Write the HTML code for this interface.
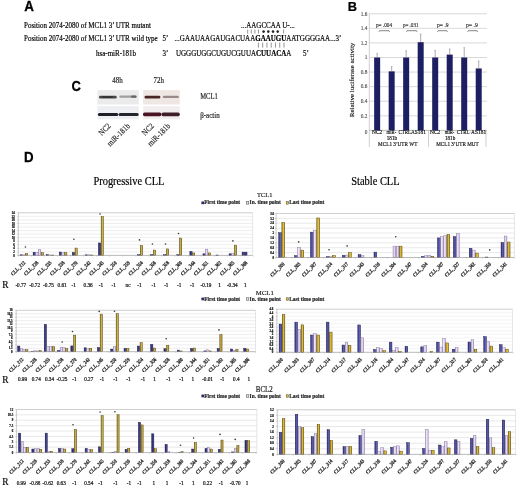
<!DOCTYPE html>
<html><head><meta charset="utf-8"><style>
html,body{margin:0;padding:0;background:#fff;}
body{width:520px;height:490px;overflow:hidden;}
svg{display:block;filter:blur(0.35px);}

</style></head><body>
<svg width="520" height="490" viewBox="0 0 520 490">
<rect width="520" height="490" fill="#fff"/>
<defs>
<linearGradient id="gn" x1="0" x2="1" y1="0" y2="0"><stop offset="0" stop-color="#24245e"/><stop offset="0.25" stop-color="#44449a"/><stop offset="0.7" stop-color="#6666b4"/><stop offset="1" stop-color="#34347a"/></linearGradient>
<linearGradient id="gl" x1="0" x2="1" y1="0" y2="0"><stop offset="0" stop-color="#9888b4"/><stop offset="0.25" stop-color="#eee6f6"/><stop offset="0.75" stop-color="#dccae8"/><stop offset="1" stop-color="#a494bc"/></linearGradient>
<linearGradient id="gg" x1="0" x2="1" y1="0" y2="0"><stop offset="0" stop-color="#6a5810"/><stop offset="0.3" stop-color="#d4b030"/><stop offset="0.7" stop-color="#e4c23a"/><stop offset="1" stop-color="#766010"/></linearGradient>
<linearGradient id="gG" x1="0" x2="1" y1="0" y2="0"><stop offset="0" stop-color="#6a5a18"/><stop offset="0.35" stop-color="#c4aa44"/><stop offset="0.65" stop-color="#d0b448"/><stop offset="1" stop-color="#786418"/></linearGradient>
<linearGradient id="gN" x1="0" x2="1" y1="0" y2="0"><stop offset="0" stop-color="#1c1c50"/><stop offset="0.4" stop-color="#34347e"/><stop offset="0.7" stop-color="#4a4a98"/><stop offset="1" stop-color="#262664"/></linearGradient>
</defs>
<text transform="translate(24.2,11.1) scale(0.9524,1)" x="0" y="0" font-size="14.070" font-family="Liberation Sans" font-weight="bold" text-anchor="start" fill="#000" stroke="#000" stroke-width="0.25" >A</text>
<text transform="translate(347.8,11.1) scale(0.9434,1)" x="0" y="0" font-size="13.568" font-family="Liberation Sans" font-weight="bold" text-anchor="start" fill="#000" stroke="#000" stroke-width="0.25" >B</text>
<text transform="translate(71.4,90.6) scale(0.9091,1)" x="0" y="0" font-size="14.300" font-family="Liberation Sans" font-weight="bold" text-anchor="start" fill="#000" stroke="#000" stroke-width="0.25" >C</text>
<text transform="translate(23.9,162.3) scale(0.9615,1)" x="0" y="0" font-size="13.832" font-family="Liberation Sans" font-weight="bold" text-anchor="start" fill="#000" stroke="#000" stroke-width="0.25" >D</text>
<text transform="translate(24,27.5) scale(0.8929,1)" x="0" y="0" font-size="7.840" font-family="Liberation Serif" font-weight="normal" text-anchor="start" fill="#000" stroke="#000" stroke-width="0.18" >Position 2074-2080 of MCL1 3&#8217; UTR mutant</text>
<text transform="translate(24,41) scale(0.8929,1)" x="0" y="0" font-size="7.840" font-family="Liberation Serif" font-weight="normal" text-anchor="start" fill="#000" stroke="#000" stroke-width="0.18" >Position 2074-2080 of MCL1 3&#8217; UTR wild type</text>
<text transform="translate(96,55.5) scale(0.8929,1)" x="0" y="0" font-size="7.840" font-family="Liberation Serif" font-weight="normal" text-anchor="start" fill="#000" stroke="#000" stroke-width="0.18" >hsa-miR-181b</text>
<text transform="translate(162.5,41) scale(0.8929,1)" x="0" y="0" font-size="7.840" font-family="Liberation Serif" font-weight="normal" text-anchor="start" fill="#000" stroke="#000" stroke-width="0.18" >5&#8217;</text>
<text transform="translate(162.5,55.5) scale(0.8929,1)" x="0" y="0" font-size="7.840" font-family="Liberation Serif" font-weight="normal" text-anchor="start" fill="#000" stroke="#000" stroke-width="0.18" >3&#8217;</text>
<text transform="translate(174.6,41) scale(0.8929,1)" x="0" y="0" font-size="7.840" font-family="Liberation Serif" font-weight="normal" text-anchor="start" fill="#000" stroke="#000" stroke-width="0.18" >...GAAUAAGAUGACUAA<tspan font-weight="bold">GAAUGU</tspan>AATGGGGAA...3&#8217;</text>
<text transform="translate(176,55.5) scale(0.8929,1)" x="0" y="0" font-size="7.840" font-family="Liberation Serif" font-weight="normal" text-anchor="start" fill="#000" stroke="#000" stroke-width="0.18" >UGGGUGGCUGUCGUUA<tspan font-weight="bold">CUUACA</tspan>A</text>
<text transform="translate(303,55.5) scale(0.8929,1)" x="0" y="0" font-size="7.840" font-family="Liberation Serif" font-weight="normal" text-anchor="start" fill="#000" stroke="#000" stroke-width="0.18" >5&#8217;</text>
<text transform="translate(241,28.3) scale(0.8929,1)" x="0" y="0" font-size="7.840" font-family="Liberation Serif" font-weight="normal" text-anchor="start" fill="#000" stroke="#000" stroke-width="0.18" >...AAGCCAA&#8201;U<tspan font-weight="bold">-</tspan>...</text>
<line x1="247.70" y1="29.60" x2="247.70" y2="33.60" stroke="#666" stroke-width="0.7" />
<line x1="251.30" y1="29.60" x2="251.30" y2="33.60" stroke="#666" stroke-width="0.7" />
<line x1="254.90" y1="29.60" x2="254.90" y2="33.60" stroke="#666" stroke-width="0.7" />
<line x1="258.50" y1="29.60" x2="258.50" y2="33.60" stroke="#666" stroke-width="0.7" />
<line x1="283.60" y1="29.60" x2="283.60" y2="33.60" stroke="#666" stroke-width="0.7" />
<circle cx="263.6" cy="31.6" r="1.3" fill="#222"/>
<circle cx="268.3" cy="31.6" r="1.3" fill="#222"/>
<circle cx="273.0" cy="31.6" r="1.3" fill="#222"/>
<circle cx="277.7" cy="31.6" r="1.3" fill="#222"/>
<line x1="258.40" y1="42.60" x2="258.40" y2="47.60" stroke="#666" stroke-width="0.7" />
<line x1="262.67" y1="42.60" x2="262.67" y2="47.60" stroke="#666" stroke-width="0.7" />
<line x1="266.94" y1="42.60" x2="266.94" y2="47.60" stroke="#666" stroke-width="0.7" />
<line x1="271.21" y1="42.60" x2="271.21" y2="47.60" stroke="#666" stroke-width="0.7" />
<line x1="275.48" y1="42.60" x2="275.48" y2="47.60" stroke="#666" stroke-width="0.7" />
<line x1="279.75" y1="42.60" x2="279.75" y2="47.60" stroke="#666" stroke-width="0.7" />
<line x1="284.02" y1="42.60" x2="284.02" y2="47.60" stroke="#666" stroke-width="0.7" />
<line x1="369.30" y1="115.82" x2="487.00" y2="115.82" stroke="#cfcfcf" stroke-width="0.8" />
<line x1="369.30" y1="101.24" x2="487.00" y2="101.24" stroke="#cfcfcf" stroke-width="0.8" />
<line x1="369.30" y1="86.66" x2="487.00" y2="86.66" stroke="#cfcfcf" stroke-width="0.8" />
<line x1="369.30" y1="72.08" x2="487.00" y2="72.08" stroke="#cfcfcf" stroke-width="0.8" />
<line x1="369.30" y1="57.50" x2="487.00" y2="57.50" stroke="#cfcfcf" stroke-width="0.8" />
<line x1="369.30" y1="42.92" x2="487.00" y2="42.92" stroke="#cfcfcf" stroke-width="0.8" />
<line x1="369.30" y1="28.34" x2="487.00" y2="28.34" stroke="#cfcfcf" stroke-width="0.8" />
<line x1="369.30" y1="13.76" x2="487.00" y2="13.76" stroke="#cfcfcf" stroke-width="0.8" />
<line x1="369.30" y1="130.40" x2="487.00" y2="130.40" stroke="#aaa" stroke-width="0.8" />
<line x1="369.30" y1="13.50" x2="369.30" y2="147.00" stroke="#bbb" stroke-width="0.7" />
<line x1="428.50" y1="130.40" x2="428.50" y2="147.00" stroke="#bbb" stroke-width="0.7" />
<line x1="486.00" y1="130.40" x2="486.00" y2="147.00" stroke="#bbb" stroke-width="0.7" />
<text transform="translate(367.3,133.60000000000002) scale(0.8929,1)" x="0" y="0" font-size="5.936" font-family="Liberation Serif" font-weight="normal" text-anchor="end" fill="#444" stroke="#444" stroke-width="0.1" >0</text>
<text transform="translate(367.3,117.62) scale(0.8929,1)" x="0" y="0" font-size="5.936" font-family="Liberation Serif" font-weight="normal" text-anchor="end" fill="#444" stroke="#444" stroke-width="0.1" >0.2</text>
<text transform="translate(367.3,103.04) scale(0.8929,1)" x="0" y="0" font-size="5.936" font-family="Liberation Serif" font-weight="normal" text-anchor="end" fill="#444" stroke="#444" stroke-width="0.1" >0.4</text>
<text transform="translate(367.3,88.46) scale(0.8929,1)" x="0" y="0" font-size="5.936" font-family="Liberation Serif" font-weight="normal" text-anchor="end" fill="#444" stroke="#444" stroke-width="0.1" >0.6</text>
<text transform="translate(367.3,73.88) scale(0.8929,1)" x="0" y="0" font-size="5.936" font-family="Liberation Serif" font-weight="normal" text-anchor="end" fill="#444" stroke="#444" stroke-width="0.1" >0.8</text>
<text transform="translate(367.3,59.3) scale(0.8929,1)" x="0" y="0" font-size="5.936" font-family="Liberation Serif" font-weight="normal" text-anchor="end" fill="#444" stroke="#444" stroke-width="0.1" >1</text>
<text transform="translate(367.3,44.719999999999985) scale(0.8929,1)" x="0" y="0" font-size="5.936" font-family="Liberation Serif" font-weight="normal" text-anchor="end" fill="#444" stroke="#444" stroke-width="0.1" >1.2</text>
<text transform="translate(367.3,30.13999999999999) scale(0.8929,1)" x="0" y="0" font-size="5.936" font-family="Liberation Serif" font-weight="normal" text-anchor="end" fill="#444" stroke="#444" stroke-width="0.1" >1.4</text>
<text transform="translate(367.3,15.559999999999992) scale(0.8929,1)" x="0" y="0" font-size="5.936" font-family="Liberation Serif" font-weight="normal" text-anchor="end" fill="#444" stroke="#444" stroke-width="0.1" >1.6</text>
<rect x="374.15" y="57.50" width="6.00" height="72.90" fill="#1e1e62" />
<line x1="377.15" y1="53.64" x2="377.15" y2="57.50" stroke="#888" stroke-width="0.7" />
<line x1="376.35" y1="53.64" x2="377.95" y2="53.64" stroke="#888" stroke-width="0.6" />
<rect x="388.66" y="71.35" width="6.00" height="59.05" fill="#1e1e62" />
<line x1="391.66" y1="66.61" x2="391.66" y2="71.35" stroke="#888" stroke-width="0.7" />
<line x1="390.86" y1="66.61" x2="392.46" y2="66.61" stroke="#888" stroke-width="0.6" />
<rect x="403.17" y="57.50" width="6.00" height="72.90" fill="#1e1e62" />
<line x1="406.17" y1="50.79" x2="406.17" y2="57.50" stroke="#888" stroke-width="0.7" />
<line x1="405.37" y1="50.79" x2="406.97" y2="50.79" stroke="#888" stroke-width="0.6" />
<rect x="417.68" y="42.19" width="6.00" height="88.21" fill="#1e1e62" />
<line x1="420.68" y1="34.17" x2="420.68" y2="42.19" stroke="#888" stroke-width="0.7" />
<line x1="419.88" y1="34.17" x2="421.48" y2="34.17" stroke="#888" stroke-width="0.6" />
<rect x="432.19" y="57.50" width="6.00" height="72.90" fill="#1e1e62" />
<line x1="435.19" y1="50.43" x2="435.19" y2="57.50" stroke="#888" stroke-width="0.7" />
<line x1="434.39" y1="50.43" x2="435.99" y2="50.43" stroke="#888" stroke-width="0.6" />
<rect x="446.70" y="54.58" width="6.00" height="75.82" fill="#1e1e62" />
<line x1="449.70" y1="48.97" x2="449.70" y2="54.58" stroke="#888" stroke-width="0.7" />
<line x1="448.90" y1="48.97" x2="450.50" y2="48.97" stroke="#888" stroke-width="0.6" />
<rect x="461.21" y="57.50" width="6.00" height="72.90" fill="#1e1e62" />
<line x1="464.21" y1="47.73" x2="464.21" y2="57.50" stroke="#888" stroke-width="0.7" />
<line x1="463.41" y1="47.73" x2="465.01" y2="47.73" stroke="#888" stroke-width="0.6" />
<rect x="475.72" y="68.44" width="6.00" height="61.97" fill="#1e1e62" />
<line x1="478.72" y1="61.15" x2="478.72" y2="68.44" stroke="#888" stroke-width="0.7" />
<line x1="477.92" y1="61.15" x2="479.52" y2="61.15" stroke="#888" stroke-width="0.6" />
<text font-family="Liberation Serif" font-size="7" fill="#222" stroke="#222" stroke-width="0.15" textLength="74.5" lengthAdjust="spacingAndGlyphs" transform="translate(353.6,79.9) rotate(-90)" text-anchor="middle">Relative luciferase activity</text>
<text transform="translate(375.9,27) scale(0.8929,1)" x="0" y="0" font-size="6.496" font-family="Liberation Serif" font-weight="normal" text-anchor="start" fill="#333" stroke="#333" stroke-width="0.18" textLength="18.14" lengthAdjust="spacingAndGlyphs">p= .004</text>
<path d="M379,31.8 L379.6,30.7 L389.0,30.7 L389.6,31.8" fill="none" stroke="#333" stroke-width="0.6"/>
<text transform="translate(402.9,27) scale(0.8929,1)" x="0" y="0" font-size="6.496" font-family="Liberation Serif" font-weight="normal" text-anchor="start" fill="#333" stroke="#333" stroke-width="0.18" textLength="17.47" lengthAdjust="spacingAndGlyphs">p= .031</text>
<path d="M406.5,31.8 L407.1,30.7 L416.5,30.7 L417.1,31.8" fill="none" stroke="#333" stroke-width="0.6"/>
<text transform="translate(437,27) scale(0.8929,1)" x="0" y="0" font-size="6.496" font-family="Liberation Serif" font-weight="normal" text-anchor="start" fill="#333" stroke="#333" stroke-width="0.18" textLength="12.99" lengthAdjust="spacingAndGlyphs">p= .9</text>
<path d="M437.5,31.8 L438.1,30.7 L446.9,30.7 L447.5,31.8" fill="none" stroke="#333" stroke-width="0.6"/>
<text transform="translate(466,27) scale(0.8929,1)" x="0" y="0" font-size="6.496" font-family="Liberation Serif" font-weight="normal" text-anchor="start" fill="#333" stroke="#333" stroke-width="0.18" textLength="13.22" lengthAdjust="spacingAndGlyphs">p= .9</text>
<path d="M467.7,31.8 L468.3,30.7 L477.09999999999997,30.7 L477.7,31.8" fill="none" stroke="#333" stroke-width="0.6"/>
<text transform="translate(377.2,134.4) scale(0.8929,1)" x="0" y="0" font-size="6.272" font-family="Liberation Serif" font-weight="normal" text-anchor="middle" fill="#1a1a1a" stroke="#1a1a1a" stroke-width="0.22" textLength="11.42" lengthAdjust="spacingAndGlyphs">NC2</text>
<text transform="translate(391.4,134.4) scale(0.8929,1)" x="0" y="0" font-size="6.272" font-family="Liberation Serif" font-weight="normal" text-anchor="middle" fill="#1a1a1a" stroke="#1a1a1a" stroke-width="0.22" textLength="10.75" lengthAdjust="spacingAndGlyphs">miR-</text>
<text transform="translate(404.7,134.4) scale(0.8929,1)" x="0" y="0" font-size="6.272" font-family="Liberation Serif" font-weight="normal" text-anchor="middle" fill="#1a1a1a" stroke="#1a1a1a" stroke-width="0.22" textLength="14.11" lengthAdjust="spacingAndGlyphs">CTRL</text>
<text transform="translate(418.4,134.4) scale(0.8929,1)" x="0" y="0" font-size="6.272" font-family="Liberation Serif" font-weight="normal" text-anchor="middle" fill="#1a1a1a" stroke="#1a1a1a" stroke-width="0.22" textLength="16.58" lengthAdjust="spacingAndGlyphs">AS181</text>
<text transform="translate(435.2,134.4) scale(0.8929,1)" x="0" y="0" font-size="6.272" font-family="Liberation Serif" font-weight="normal" text-anchor="middle" fill="#1a1a1a" stroke="#1a1a1a" stroke-width="0.22" textLength="11.42" lengthAdjust="spacingAndGlyphs">NC2</text>
<text transform="translate(449.6,134.4) scale(0.8929,1)" x="0" y="0" font-size="6.272" font-family="Liberation Serif" font-weight="normal" text-anchor="middle" fill="#1a1a1a" stroke="#1a1a1a" stroke-width="0.22" textLength="10.75" lengthAdjust="spacingAndGlyphs">miR-</text>
<text transform="translate(463.2,134.4) scale(0.8929,1)" x="0" y="0" font-size="6.272" font-family="Liberation Serif" font-weight="normal" text-anchor="middle" fill="#1a1a1a" stroke="#1a1a1a" stroke-width="0.22" textLength="14.11" lengthAdjust="spacingAndGlyphs">CTRL</text>
<text transform="translate(478.6,134.4) scale(0.8929,1)" x="0" y="0" font-size="6.272" font-family="Liberation Serif" font-weight="normal" text-anchor="middle" fill="#1a1a1a" stroke="#1a1a1a" stroke-width="0.22" textLength="16.80" lengthAdjust="spacingAndGlyphs">AS181</text>
<text transform="translate(391.9,139.9) scale(0.8929,1)" x="0" y="0" font-size="6.272" font-family="Liberation Serif" font-weight="normal" text-anchor="middle" fill="#1a1a1a" stroke="#1a1a1a" stroke-width="0.22" textLength="11.4" lengthAdjust="spacingAndGlyphs">181b</text>
<text transform="translate(450.1,139.9) scale(0.8929,1)" x="0" y="0" font-size="6.272" font-family="Liberation Serif" font-weight="normal" text-anchor="middle" fill="#1a1a1a" stroke="#1a1a1a" stroke-width="0.22" textLength="11.4" lengthAdjust="spacingAndGlyphs">181b</text>
<text transform="translate(397.7,146.0) scale(0.8929,1)" x="0" y="0" font-size="6.608" font-family="Liberation Serif" font-weight="normal" text-anchor="middle" fill="#1a1a1a" stroke="#1a1a1a" stroke-width="0.22" textLength="43.9" lengthAdjust="spacingAndGlyphs">MCL1 3&#8217;UTR WT</text>
<text transform="translate(457.4,146.0) scale(0.8929,1)" x="0" y="0" font-size="6.608" font-family="Liberation Serif" font-weight="normal" text-anchor="middle" fill="#1a1a1a" stroke="#1a1a1a" stroke-width="0.22" textLength="47.5" lengthAdjust="spacingAndGlyphs">MCL1 3&#8217;UTR MUT</text>
<line x1="383.80" y1="130.40" x2="383.80" y2="134.00" stroke="#d8d8d8" stroke-width="0.5" />
<line x1="398.30" y1="130.40" x2="398.30" y2="134.00" stroke="#d8d8d8" stroke-width="0.5" />
<line x1="412.80" y1="130.40" x2="412.80" y2="134.00" stroke="#d8d8d8" stroke-width="0.5" />
<line x1="441.80" y1="130.40" x2="441.80" y2="134.00" stroke="#d8d8d8" stroke-width="0.5" />
<line x1="456.30" y1="130.40" x2="456.30" y2="134.00" stroke="#d8d8d8" stroke-width="0.5" />
<line x1="470.80" y1="130.40" x2="470.80" y2="134.00" stroke="#d8d8d8" stroke-width="0.5" />
<text transform="translate(117.4,82.6) scale(0.8197,1)" x="0" y="0" font-size="8.540" font-family="Liberation Serif" font-weight="normal" text-anchor="middle" fill="#222" stroke="#222" stroke-width="0.18" >48h</text>
<text transform="translate(158.7,82.6) scale(0.8197,1)" x="0" y="0" font-size="8.540" font-family="Liberation Serif" font-weight="normal" text-anchor="middle" fill="#222" stroke="#222" stroke-width="0.18" >72h</text>
<rect x="97.40" y="90.10" width="41.40" height="14.40" fill="#ebebeb" />
<rect x="143.20" y="90.10" width="36.60" height="14.40" fill="#efe7e3" />
<rect x="99" y="95.8" width="17.7" height="2.6" rx="1.2" fill="#4a4848"/>
<rect x="102" y="96.1" width="11" height="2.0" rx="1" fill="#363434"/>
<rect x="119.3" y="95.6" width="17.3" height="2.1" rx="1" fill="#a09e9e"/>
<rect x="131" y="95.6" width="5.5" height="2.1" rx="1" fill="#666"/>
<rect x="144.6" y="95.8" width="15.7" height="2.6" rx="1.2" fill="#4a2626"/>
<rect x="162.8" y="95.7" width="16.1" height="2.3" rx="1.1" fill="#9c8a8a"/>
<rect x="97.40" y="106.20" width="41.40" height="13.10" fill="#edeef2" />
<rect x="143.20" y="106.20" width="36.60" height="13.10" fill="#f2eef0" />
<rect x="97.9" y="112.9" width="20.4" height="3.1" rx="1.5" fill="#1e1e26"/>
<rect x="118.6" y="112.9" width="20.1" height="3.1" rx="1.5" fill="#24242c"/>
<rect x="143" y="112.6" width="18.4" height="3.6" rx="1.6" fill="#4a1222"/>
<rect x="161.5" y="112.6" width="18.3" height="3.6" rx="1.6" fill="#3e1e28"/>
<text transform="translate(200.2,98.6) scale(0.8333,1)" x="0" y="0" font-size="7.920" font-family="Liberation Serif" font-weight="normal" text-anchor="start" fill="#222" stroke="#222" stroke-width="0.18" >MCL1</text>
<text transform="translate(200.2,117.5) scale(0.8929,1)" x="0" y="0" font-size="7.840" font-family="Liberation Serif" font-weight="normal" text-anchor="start" fill="#222" stroke="#222" stroke-width="0.18" >&#946;-actin</text>
<text x="0" y="0" font-size="8.26" font-family="Liberation Serif" text-anchor="end" fill="#222" stroke="#222" stroke-width="0.15" transform="translate(111.2,126.6) rotate(-45) scale(0.8475,1)">NC2</text>
<text x="0" y="0" font-size="8.26" font-family="Liberation Serif" text-anchor="end" fill="#222" stroke="#222" stroke-width="0.15" transform="translate(130.4,126.6) rotate(-45) scale(0.8475,1)">miR-181b</text>
<text x="0" y="0" font-size="8.26" font-family="Liberation Serif" text-anchor="end" fill="#222" stroke="#222" stroke-width="0.15" transform="translate(154.4,126.6) rotate(-45) scale(0.8475,1)">NC2</text>
<text x="0" y="0" font-size="8.26" font-family="Liberation Serif" text-anchor="end" fill="#222" stroke="#222" stroke-width="0.15" transform="translate(170.8,126.6) rotate(-45) scale(0.8475,1)">miR-181b</text>
<text transform="translate(93.4,184.8) scale(0.8929,1)" x="0" y="0" font-size="11.704" font-family="Liberation Serif" font-weight="normal" text-anchor="start" fill="#000" stroke="#000" stroke-width="0.18" >Progressive CLL</text>
<text transform="translate(351.2,184.8) scale(0.8929,1)" x="0" y="0" font-size="11.704" font-family="Liberation Serif" font-weight="normal" text-anchor="start" fill="#000" stroke="#000" stroke-width="0.18" >Stable CLL</text>
<text transform="translate(256.9,197.3) scale(0.9524,1)" x="0" y="0" font-size="6.825" font-family="Liberation Serif" font-weight="normal" text-anchor="start" fill="#222" stroke="#222" stroke-width="0.18" >TCL1</text>
<rect x="201.40" y="201.50" width="2.70" height="2.70" fill="#2a2a6a" />
<text transform="translate(204.3,204.4) scale(0.9091,1)" x="0" y="0" font-size="5.940" font-family="Liberation Serif" font-weight="bold" text-anchor="start" fill="#222" stroke="#222" stroke-width="0.18" >First time point</text>
<rect x="246.4" y="201.70000000000002" width="2.4" height="2.4" fill="#ece4f4" stroke="#444" stroke-width="0.5"/>
<text transform="translate(249.6,204.4) scale(0.9091,1)" x="0" y="0" font-size="5.940" font-family="Liberation Serif" font-weight="bold" text-anchor="start" fill="#222" stroke="#222" stroke-width="0.18" >In. time point</text>
<rect x="286.2" y="201.70000000000002" width="2.4" height="2.4" fill="#e8c030" stroke="#444" stroke-width="0.5"/>
<text transform="translate(289.2,204.4) scale(0.9091,1)" x="0" y="0" font-size="5.940" font-family="Liberation Serif" font-weight="bold" text-anchor="start" fill="#222" stroke="#222" stroke-width="0.18" >Last time point</text>
<text transform="translate(255.8,294.9) scale(0.9524,1)" x="0" y="0" font-size="7.088" font-family="Liberation Serif" font-weight="normal" text-anchor="start" fill="#222" stroke="#222" stroke-width="0.18" >MCL1</text>
<rect x="201.40" y="297.60" width="2.70" height="2.70" fill="#2a2a6a" />
<text transform="translate(204.3,300.5) scale(0.9091,1)" x="0" y="0" font-size="5.940" font-family="Liberation Serif" font-weight="bold" text-anchor="start" fill="#222" stroke="#222" stroke-width="0.18" >First time point</text>
<rect x="246.4" y="297.8" width="2.4" height="2.4" fill="#ece4f4" stroke="#444" stroke-width="0.5"/>
<text transform="translate(249.6,300.5) scale(0.9091,1)" x="0" y="0" font-size="5.940" font-family="Liberation Serif" font-weight="bold" text-anchor="start" fill="#222" stroke="#222" stroke-width="0.18" >In. time point</text>
<rect x="286.2" y="297.8" width="2.4" height="2.4" fill="#e8c030" stroke="#444" stroke-width="0.5"/>
<text transform="translate(289.2,300.5) scale(0.9091,1)" x="0" y="0" font-size="5.940" font-family="Liberation Serif" font-weight="bold" text-anchor="start" fill="#222" stroke="#222" stroke-width="0.18" >Last time point</text>
<text transform="translate(255.8,392.1) scale(0.9524,1)" x="0" y="0" font-size="7.245" font-family="Liberation Serif" font-weight="normal" text-anchor="start" fill="#222" stroke="#222" stroke-width="0.18" >BCL2</text>
<rect x="201.40" y="394.60" width="2.70" height="2.70" fill="#2a2a6a" />
<text transform="translate(204.3,397.5) scale(0.9091,1)" x="0" y="0" font-size="5.940" font-family="Liberation Serif" font-weight="bold" text-anchor="start" fill="#222" stroke="#222" stroke-width="0.18" >First time point</text>
<rect x="246.4" y="394.8" width="2.4" height="2.4" fill="#ece4f4" stroke="#444" stroke-width="0.5"/>
<text transform="translate(249.6,397.5) scale(0.9091,1)" x="0" y="0" font-size="5.940" font-family="Liberation Serif" font-weight="bold" text-anchor="start" fill="#222" stroke="#222" stroke-width="0.18" >In. time point</text>
<rect x="286.2" y="394.8" width="2.4" height="2.4" fill="#e8c030" stroke="#444" stroke-width="0.5"/>
<text transform="translate(289.2,397.5) scale(0.9091,1)" x="0" y="0" font-size="5.940" font-family="Liberation Serif" font-weight="bold" text-anchor="start" fill="#222" stroke="#222" stroke-width="0.18" >Last time point</text>
<line x1="18.30" y1="212.80" x2="252.60" y2="212.80" stroke="#e2e2e2" stroke-width="0.6" />
<line x1="17.10" y1="212.80" x2="18.30" y2="212.80" stroke="#999" stroke-width="0.4" />
<text transform="translate(14.9,213.95000000000002) scale(0.9091,1)" x="0" y="0" font-size="3.410" font-family="Liberation Serif" font-weight="bold" text-anchor="end" fill="#111" stroke="#111" stroke-width="0.2" >24</text>
<line x1="18.30" y1="216.35" x2="252.60" y2="216.35" stroke="#e2e2e2" stroke-width="0.6" />
<line x1="17.10" y1="216.35" x2="18.30" y2="216.35" stroke="#999" stroke-width="0.4" />
<text transform="translate(14.9,217.50000000000003) scale(0.9091,1)" x="0" y="0" font-size="3.410" font-family="Liberation Serif" font-weight="bold" text-anchor="end" fill="#111" stroke="#111" stroke-width="0.2" >22</text>
<line x1="18.30" y1="219.90" x2="252.60" y2="219.90" stroke="#e2e2e2" stroke-width="0.6" />
<line x1="17.10" y1="219.90" x2="18.30" y2="219.90" stroke="#999" stroke-width="0.4" />
<text transform="translate(14.9,221.05) scale(0.9091,1)" x="0" y="0" font-size="3.410" font-family="Liberation Serif" font-weight="bold" text-anchor="end" fill="#111" stroke="#111" stroke-width="0.2" >20</text>
<line x1="18.30" y1="223.45" x2="252.60" y2="223.45" stroke="#e2e2e2" stroke-width="0.6" />
<line x1="17.10" y1="223.45" x2="18.30" y2="223.45" stroke="#999" stroke-width="0.4" />
<text transform="translate(14.9,224.60000000000002) scale(0.9091,1)" x="0" y="0" font-size="3.410" font-family="Liberation Serif" font-weight="bold" text-anchor="end" fill="#111" stroke="#111" stroke-width="0.2" >18</text>
<line x1="18.30" y1="227.00" x2="252.60" y2="227.00" stroke="#e2e2e2" stroke-width="0.6" />
<line x1="17.10" y1="227.00" x2="18.30" y2="227.00" stroke="#999" stroke-width="0.4" />
<text transform="translate(14.9,228.15) scale(0.9091,1)" x="0" y="0" font-size="3.410" font-family="Liberation Serif" font-weight="bold" text-anchor="end" fill="#111" stroke="#111" stroke-width="0.2" >16</text>
<line x1="18.30" y1="230.55" x2="252.60" y2="230.55" stroke="#e2e2e2" stroke-width="0.6" />
<line x1="17.10" y1="230.55" x2="18.30" y2="230.55" stroke="#999" stroke-width="0.4" />
<text transform="translate(14.9,231.70000000000002) scale(0.9091,1)" x="0" y="0" font-size="3.410" font-family="Liberation Serif" font-weight="bold" text-anchor="end" fill="#111" stroke="#111" stroke-width="0.2" >14</text>
<line x1="18.30" y1="234.10" x2="252.60" y2="234.10" stroke="#e2e2e2" stroke-width="0.6" />
<line x1="17.10" y1="234.10" x2="18.30" y2="234.10" stroke="#999" stroke-width="0.4" />
<text transform="translate(14.9,235.25000000000003) scale(0.9091,1)" x="0" y="0" font-size="3.410" font-family="Liberation Serif" font-weight="bold" text-anchor="end" fill="#111" stroke="#111" stroke-width="0.2" >12</text>
<line x1="18.30" y1="237.65" x2="252.60" y2="237.65" stroke="#e2e2e2" stroke-width="0.6" />
<line x1="17.10" y1="237.65" x2="18.30" y2="237.65" stroke="#999" stroke-width="0.4" />
<text transform="translate(14.9,238.8) scale(0.9091,1)" x="0" y="0" font-size="3.410" font-family="Liberation Serif" font-weight="bold" text-anchor="end" fill="#111" stroke="#111" stroke-width="0.2" >10</text>
<line x1="18.30" y1="241.20" x2="252.60" y2="241.20" stroke="#e2e2e2" stroke-width="0.6" />
<line x1="17.10" y1="241.20" x2="18.30" y2="241.20" stroke="#999" stroke-width="0.4" />
<text transform="translate(14.9,242.35000000000002) scale(0.9091,1)" x="0" y="0" font-size="3.410" font-family="Liberation Serif" font-weight="bold" text-anchor="end" fill="#111" stroke="#111" stroke-width="0.2" >8</text>
<line x1="18.30" y1="244.75" x2="252.60" y2="244.75" stroke="#e2e2e2" stroke-width="0.6" />
<line x1="17.10" y1="244.75" x2="18.30" y2="244.75" stroke="#999" stroke-width="0.4" />
<text transform="translate(14.9,245.9) scale(0.9091,1)" x="0" y="0" font-size="3.410" font-family="Liberation Serif" font-weight="bold" text-anchor="end" fill="#111" stroke="#111" stroke-width="0.2" >6</text>
<line x1="18.30" y1="248.30" x2="252.60" y2="248.30" stroke="#e2e2e2" stroke-width="0.6" />
<line x1="17.10" y1="248.30" x2="18.30" y2="248.30" stroke="#999" stroke-width="0.4" />
<text transform="translate(14.9,249.45000000000002) scale(0.9091,1)" x="0" y="0" font-size="3.410" font-family="Liberation Serif" font-weight="bold" text-anchor="end" fill="#111" stroke="#111" stroke-width="0.2" >4</text>
<line x1="18.30" y1="251.85" x2="252.60" y2="251.85" stroke="#e2e2e2" stroke-width="0.6" />
<line x1="17.10" y1="251.85" x2="18.30" y2="251.85" stroke="#999" stroke-width="0.4" />
<text transform="translate(14.9,253.0) scale(0.9091,1)" x="0" y="0" font-size="3.410" font-family="Liberation Serif" font-weight="bold" text-anchor="end" fill="#111" stroke="#111" stroke-width="0.2" >2</text>
<line x1="17.10" y1="255.40" x2="18.30" y2="255.40" stroke="#999" stroke-width="0.4" />
<text transform="translate(14.9,256.55) scale(0.9091,1)" x="0" y="0" font-size="3.410" font-family="Liberation Serif" font-weight="bold" text-anchor="end" fill="#111" stroke="#111" stroke-width="0.2" >0</text>
<line x1="18.30" y1="212.80" x2="252.60" y2="212.80" stroke="#c6c6c6" stroke-width="0.7" />
<line x1="18.30" y1="212.80" x2="18.30" y2="255.40" stroke="#999" stroke-width="0.5" />
<line x1="252.60" y1="212.80" x2="252.60" y2="255.40" stroke="#cfcfcf" stroke-width="0.5" />
<rect x="20.07" y="254.82" width="2.25" height="0.58" fill="url(#gN)" stroke="#20204e" stroke-width="0.45"/>
<rect x="22.77" y="254.82" width="2.25" height="0.58" fill="url(#gl)" stroke="#8c7ca8" stroke-width="0.45"/>
<rect x="25.47" y="253.32" width="2.25" height="2.08" fill="url(#gG)" stroke="#5e4c0e" stroke-width="0.45"/>
<rect x="33.12" y="252.22" width="2.25" height="3.18" fill="url(#gN)" stroke="#20204e" stroke-width="0.45"/>
<rect x="35.83" y="252.22" width="2.25" height="3.18" fill="url(#gl)" stroke="#8c7ca8" stroke-width="0.45"/>
<rect x="38.52" y="249.42" width="2.25" height="5.98" fill="url(#gl)" stroke="#8c7ca8" stroke-width="0.45"/>
<rect x="41.23" y="252.53" width="2.25" height="2.87" fill="url(#gG)" stroke="#5e4c0e" stroke-width="0.45"/>
<rect x="46.19" y="254.62" width="2.25" height="0.78" fill="url(#gN)" stroke="#20204e" stroke-width="0.45"/>
<rect x="48.89" y="255.03" width="2.25" height="0.37" fill="url(#gl)" stroke="#8c7ca8" stroke-width="0.45"/>
<rect x="51.59" y="255.03" width="2.25" height="0.37" fill="url(#gG)" stroke="#5e4c0e" stroke-width="0.45"/>
<rect x="59.25" y="252.03" width="2.25" height="3.37" fill="url(#gN)" stroke="#20204e" stroke-width="0.45"/>
<rect x="61.95" y="252.53" width="2.25" height="2.87" fill="url(#gl)" stroke="#8c7ca8" stroke-width="0.45"/>
<rect x="64.64" y="252.72" width="2.25" height="2.68" fill="url(#gG)" stroke="#5e4c0e" stroke-width="0.45"/>
<rect x="72.31" y="252.42" width="2.25" height="2.98" fill="url(#gN)" stroke="#20204e" stroke-width="0.45"/>
<rect x="75.01" y="248.03" width="2.25" height="7.37" fill="url(#gG)" stroke="#5e4c0e" stroke-width="0.45"/>
<rect x="85.36" y="254.82" width="2.25" height="0.58" fill="url(#gN)" stroke="#20204e" stroke-width="0.45"/>
<rect x="88.06" y="254.82" width="2.25" height="0.58" fill="url(#gl)" stroke="#8c7ca8" stroke-width="0.45"/>
<rect x="90.77" y="255.03" width="2.25" height="0.37" fill="url(#gG)" stroke="#5e4c0e" stroke-width="0.45"/>
<rect x="98.42" y="242.92" width="2.25" height="12.48" fill="url(#gN)" stroke="#20204e" stroke-width="0.45"/>
<rect x="101.12" y="216.42" width="2.25" height="38.98" fill="url(#gG)" stroke="#5e4c0e" stroke-width="0.45"/>
<rect x="137.60" y="254.72" width="2.25" height="0.68" fill="url(#gN)" stroke="#20204e" stroke-width="0.45"/>
<rect x="140.30" y="245.42" width="2.25" height="9.98" fill="url(#gG)" stroke="#5e4c0e" stroke-width="0.45"/>
<rect x="150.66" y="254.72" width="2.25" height="0.68" fill="url(#gN)" stroke="#20204e" stroke-width="0.45"/>
<rect x="153.36" y="250.03" width="2.25" height="5.37" fill="url(#gG)" stroke="#5e4c0e" stroke-width="0.45"/>
<rect x="163.72" y="254.72" width="2.25" height="0.68" fill="url(#gN)" stroke="#20204e" stroke-width="0.45"/>
<rect x="166.42" y="248.92" width="2.25" height="6.48" fill="url(#gG)" stroke="#5e4c0e" stroke-width="0.45"/>
<rect x="176.78" y="254.72" width="2.25" height="0.68" fill="url(#gN)" stroke="#20204e" stroke-width="0.45"/>
<rect x="179.48" y="238.03" width="2.25" height="17.37" fill="url(#gG)" stroke="#5e4c0e" stroke-width="0.45"/>
<rect x="189.84" y="251.42" width="2.25" height="3.98" fill="url(#gN)" stroke="#20204e" stroke-width="0.45"/>
<rect x="192.54" y="252.92" width="2.25" height="2.48" fill="url(#gG)" stroke="#5e4c0e" stroke-width="0.45"/>
<rect x="202.91" y="253.82" width="2.25" height="1.58" fill="url(#gN)" stroke="#20204e" stroke-width="0.45"/>
<rect x="205.60" y="249.12" width="2.25" height="6.28" fill="url(#gl)" stroke="#8c7ca8" stroke-width="0.45"/>
<rect x="208.31" y="252.92" width="2.25" height="2.48" fill="url(#gG)" stroke="#5e4c0e" stroke-width="0.45"/>
<rect x="215.97" y="255.03" width="2.25" height="0.37" fill="url(#gN)" stroke="#20204e" stroke-width="0.45"/>
<rect x="229.03" y="253.82" width="2.25" height="1.58" fill="url(#gN)" stroke="#20204e" stroke-width="0.45"/>
<rect x="231.72" y="253.53" width="2.25" height="1.87" fill="url(#gl)" stroke="#8c7ca8" stroke-width="0.45"/>
<rect x="234.43" y="245.12" width="2.25" height="10.28" fill="url(#gG)" stroke="#5e4c0e" stroke-width="0.45"/>
<rect x="242.09" y="252.12" width="2.25" height="3.27" fill="url(#gN)" stroke="#20204e" stroke-width="0.45"/>
<rect x="244.78" y="252.12" width="2.25" height="3.27" fill="url(#gN)" stroke="#20204e" stroke-width="0.45"/>
<line x1="18.30" y1="255.40" x2="252.60" y2="255.40" stroke="#8a8a8a" stroke-width="0.6" />
<line x1="18.30" y1="255.40" x2="18.30" y2="256.60" stroke="#999" stroke-width="0.4" />
<line x1="31.36" y1="255.40" x2="31.36" y2="256.60" stroke="#999" stroke-width="0.4" />
<line x1="44.42" y1="255.40" x2="44.42" y2="256.60" stroke="#999" stroke-width="0.4" />
<line x1="57.48" y1="255.40" x2="57.48" y2="256.60" stroke="#999" stroke-width="0.4" />
<line x1="70.54" y1="255.40" x2="70.54" y2="256.60" stroke="#999" stroke-width="0.4" />
<line x1="83.60" y1="255.40" x2="83.60" y2="256.60" stroke="#999" stroke-width="0.4" />
<line x1="96.66" y1="255.40" x2="96.66" y2="256.60" stroke="#999" stroke-width="0.4" />
<line x1="109.72" y1="255.40" x2="109.72" y2="256.60" stroke="#999" stroke-width="0.4" />
<line x1="122.78" y1="255.40" x2="122.78" y2="256.60" stroke="#999" stroke-width="0.4" />
<line x1="135.84" y1="255.40" x2="135.84" y2="256.60" stroke="#999" stroke-width="0.4" />
<line x1="148.90" y1="255.40" x2="148.90" y2="256.60" stroke="#999" stroke-width="0.4" />
<line x1="161.96" y1="255.40" x2="161.96" y2="256.60" stroke="#999" stroke-width="0.4" />
<line x1="175.02" y1="255.40" x2="175.02" y2="256.60" stroke="#999" stroke-width="0.4" />
<line x1="188.08" y1="255.40" x2="188.08" y2="256.60" stroke="#999" stroke-width="0.4" />
<line x1="201.14" y1="255.40" x2="201.14" y2="256.60" stroke="#999" stroke-width="0.4" />
<line x1="214.20" y1="255.40" x2="214.20" y2="256.60" stroke="#999" stroke-width="0.4" />
<line x1="227.26" y1="255.40" x2="227.26" y2="256.60" stroke="#999" stroke-width="0.4" />
<line x1="240.32" y1="255.40" x2="240.32" y2="256.60" stroke="#999" stroke-width="0.4" />
<line x1="253.38" y1="255.40" x2="253.38" y2="256.60" stroke="#999" stroke-width="0.4" />
<circle cx="25.4" cy="247" r="0.8" fill="#333"/>
<circle cx="73.9" cy="239.3" r="0.8" fill="#333"/>
<circle cx="100.1" cy="214" r="0.8" fill="#333"/>
<circle cx="139.5" cy="239.9" r="0.8" fill="#333"/>
<circle cx="152.4" cy="244" r="0.8" fill="#333"/>
<circle cx="165.5" cy="244" r="0.8" fill="#333"/>
<circle cx="178.5" cy="233.5" r="0.8" fill="#333"/>
<circle cx="232.9" cy="240.9" r="0.8" fill="#333"/>
<text x="0" y="0" font-size="5.40" font-family="Liberation Serif" font-weight="bold" text-anchor="end" fill="#1a1a1a" stroke="#1a1a1a" stroke-width="0.2" transform="translate(25.83,263.10) rotate(-45) scale(0.8333,1)">CLL_212</text>
<text x="0" y="0" font-size="5.40" font-family="Liberation Serif" font-weight="bold" text-anchor="end" fill="#1a1a1a" stroke="#1a1a1a" stroke-width="0.2" transform="translate(38.89,263.10) rotate(-45) scale(0.8333,1)">CLL_228</text>
<text x="0" y="0" font-size="5.40" font-family="Liberation Serif" font-weight="bold" text-anchor="end" fill="#1a1a1a" stroke="#1a1a1a" stroke-width="0.2" transform="translate(51.95,263.10) rotate(-45) scale(0.8333,1)">CLL_233</text>
<text x="0" y="0" font-size="5.40" font-family="Liberation Serif" font-weight="bold" text-anchor="end" fill="#1a1a1a" stroke="#1a1a1a" stroke-width="0.2" transform="translate(65.01,263.10) rotate(-45) scale(0.8333,1)">CLL_238</text>
<text x="0" y="0" font-size="5.40" font-family="Liberation Serif" font-weight="bold" text-anchor="end" fill="#1a1a1a" stroke="#1a1a1a" stroke-width="0.2" transform="translate(78.07,263.10) rotate(-45) scale(0.8333,1)">CLL_270</text>
<text x="0" y="0" font-size="5.40" font-family="Liberation Serif" font-weight="bold" text-anchor="end" fill="#1a1a1a" stroke="#1a1a1a" stroke-width="0.2" transform="translate(91.13,263.10) rotate(-45) scale(0.8333,1)">CLL_242</text>
<text x="0" y="0" font-size="5.40" font-family="Liberation Serif" font-weight="bold" text-anchor="end" fill="#1a1a1a" stroke="#1a1a1a" stroke-width="0.2" transform="translate(104.19,263.10) rotate(-45) scale(0.8333,1)">CLL_245</text>
<text x="0" y="0" font-size="5.40" font-family="Liberation Serif" font-weight="bold" text-anchor="end" fill="#1a1a1a" stroke="#1a1a1a" stroke-width="0.2" transform="translate(117.25,263.10) rotate(-45) scale(0.8333,1)">CLL_250</text>
<text x="0" y="0" font-size="5.40" font-family="Liberation Serif" font-weight="bold" text-anchor="end" fill="#1a1a1a" stroke="#1a1a1a" stroke-width="0.2" transform="translate(130.31,263.10) rotate(-45) scale(0.8333,1)">CLL_259</text>
<text x="0" y="0" font-size="5.40" font-family="Liberation Serif" font-weight="bold" text-anchor="end" fill="#1a1a1a" stroke="#1a1a1a" stroke-width="0.2" transform="translate(143.37,263.10) rotate(-45) scale(0.8333,1)">CLL_354</text>
<text x="0" y="0" font-size="5.40" font-family="Liberation Serif" font-weight="bold" text-anchor="end" fill="#1a1a1a" stroke="#1a1a1a" stroke-width="0.2" transform="translate(156.43,263.10) rotate(-45) scale(0.8333,1)">CLL_356</text>
<text x="0" y="0" font-size="5.40" font-family="Liberation Serif" font-weight="bold" text-anchor="end" fill="#1a1a1a" stroke="#1a1a1a" stroke-width="0.2" transform="translate(169.49,263.10) rotate(-45) scale(0.8333,1)">CLL_358</text>
<text x="0" y="0" font-size="5.40" font-family="Liberation Serif" font-weight="bold" text-anchor="end" fill="#1a1a1a" stroke="#1a1a1a" stroke-width="0.2" transform="translate(182.55,263.10) rotate(-45) scale(0.8333,1)">CLL_360</text>
<text x="0" y="0" font-size="5.40" font-family="Liberation Serif" font-weight="bold" text-anchor="end" fill="#1a1a1a" stroke="#1a1a1a" stroke-width="0.2" transform="translate(195.61,263.10) rotate(-45) scale(0.8333,1)">CLL_344</text>
<text x="0" y="0" font-size="5.40" font-family="Liberation Serif" font-weight="bold" text-anchor="end" fill="#1a1a1a" stroke="#1a1a1a" stroke-width="0.2" transform="translate(208.67,263.10) rotate(-45) scale(0.8333,1)">CLL_351</text>
<text x="0" y="0" font-size="5.40" font-family="Liberation Serif" font-weight="bold" text-anchor="end" fill="#1a1a1a" stroke="#1a1a1a" stroke-width="0.2" transform="translate(221.73,263.10) rotate(-45) scale(0.8333,1)">CLL_362</text>
<text x="0" y="0" font-size="5.40" font-family="Liberation Serif" font-weight="bold" text-anchor="end" fill="#1a1a1a" stroke="#1a1a1a" stroke-width="0.2" transform="translate(234.79,263.10) rotate(-45) scale(0.8333,1)">CLL_365</text>
<text x="0" y="0" font-size="5.40" font-family="Liberation Serif" font-weight="bold" text-anchor="end" fill="#1a1a1a" stroke="#1a1a1a" stroke-width="0.2" transform="translate(247.85,263.10) rotate(-45) scale(0.8333,1)">CLL_366</text>
<line x1="276.10" y1="213.50" x2="514.50" y2="213.50" stroke="#dadada" stroke-width="0.6" />
<line x1="274.90" y1="213.50" x2="276.10" y2="213.50" stroke="#999" stroke-width="0.4" />
<text transform="translate(274.0,214.65) scale(0.9091,1)" x="0" y="0" font-size="3.410" font-family="Liberation Serif" font-weight="bold" text-anchor="end" fill="#111" stroke="#111" stroke-width="0.2" >3.6</text>
<line x1="276.10" y1="218.39" x2="514.50" y2="218.39" stroke="#dadada" stroke-width="0.6" />
<line x1="274.90" y1="218.39" x2="276.10" y2="218.39" stroke="#999" stroke-width="0.4" />
<text transform="translate(274.0,219.5388888888889) scale(0.9091,1)" x="0" y="0" font-size="3.410" font-family="Liberation Serif" font-weight="bold" text-anchor="end" fill="#111" stroke="#111" stroke-width="0.2" >3.2</text>
<line x1="276.10" y1="223.28" x2="514.50" y2="223.28" stroke="#dadada" stroke-width="0.6" />
<line x1="274.90" y1="223.28" x2="276.10" y2="223.28" stroke="#999" stroke-width="0.4" />
<text transform="translate(274.0,224.42777777777778) scale(0.9091,1)" x="0" y="0" font-size="3.410" font-family="Liberation Serif" font-weight="bold" text-anchor="end" fill="#111" stroke="#111" stroke-width="0.2" >2.8</text>
<line x1="276.10" y1="228.17" x2="514.50" y2="228.17" stroke="#dadada" stroke-width="0.6" />
<line x1="274.90" y1="228.17" x2="276.10" y2="228.17" stroke="#999" stroke-width="0.4" />
<text transform="translate(274.0,229.31666666666666) scale(0.9091,1)" x="0" y="0" font-size="3.410" font-family="Liberation Serif" font-weight="bold" text-anchor="end" fill="#111" stroke="#111" stroke-width="0.2" >2.4</text>
<line x1="276.10" y1="233.06" x2="514.50" y2="233.06" stroke="#dadada" stroke-width="0.6" />
<line x1="274.90" y1="233.06" x2="276.10" y2="233.06" stroke="#999" stroke-width="0.4" />
<text transform="translate(274.0,234.20555555555555) scale(0.9091,1)" x="0" y="0" font-size="3.410" font-family="Liberation Serif" font-weight="bold" text-anchor="end" fill="#111" stroke="#111" stroke-width="0.2" >2</text>
<line x1="276.10" y1="237.94" x2="514.50" y2="237.94" stroke="#dadada" stroke-width="0.6" />
<line x1="274.90" y1="237.94" x2="276.10" y2="237.94" stroke="#999" stroke-width="0.4" />
<text transform="translate(274.0,239.09444444444446) scale(0.9091,1)" x="0" y="0" font-size="3.410" font-family="Liberation Serif" font-weight="bold" text-anchor="end" fill="#111" stroke="#111" stroke-width="0.2" >1.6</text>
<line x1="276.10" y1="242.83" x2="514.50" y2="242.83" stroke="#dadada" stroke-width="0.6" />
<line x1="274.90" y1="242.83" x2="276.10" y2="242.83" stroke="#999" stroke-width="0.4" />
<text transform="translate(274.0,243.98333333333335) scale(0.9091,1)" x="0" y="0" font-size="3.410" font-family="Liberation Serif" font-weight="bold" text-anchor="end" fill="#111" stroke="#111" stroke-width="0.2" >1.2</text>
<line x1="276.10" y1="247.72" x2="514.50" y2="247.72" stroke="#dadada" stroke-width="0.6" />
<line x1="274.90" y1="247.72" x2="276.10" y2="247.72" stroke="#999" stroke-width="0.4" />
<text transform="translate(274.0,248.87222222222223) scale(0.9091,1)" x="0" y="0" font-size="3.410" font-family="Liberation Serif" font-weight="bold" text-anchor="end" fill="#111" stroke="#111" stroke-width="0.2" >0.8</text>
<line x1="276.10" y1="252.61" x2="514.50" y2="252.61" stroke="#dadada" stroke-width="0.6" />
<line x1="274.90" y1="252.61" x2="276.10" y2="252.61" stroke="#999" stroke-width="0.4" />
<text transform="translate(274.0,253.76111111111112) scale(0.9091,1)" x="0" y="0" font-size="3.410" font-family="Liberation Serif" font-weight="bold" text-anchor="end" fill="#111" stroke="#111" stroke-width="0.2" >0.4</text>
<line x1="274.90" y1="257.50" x2="276.10" y2="257.50" stroke="#999" stroke-width="0.4" />
<text transform="translate(274.0,258.65) scale(0.9091,1)" x="0" y="0" font-size="3.410" font-family="Liberation Serif" font-weight="bold" text-anchor="end" fill="#111" stroke="#111" stroke-width="0.2" >0</text>
<line x1="276.10" y1="213.50" x2="514.50" y2="213.50" stroke="#c6c6c6" stroke-width="0.7" />
<line x1="276.10" y1="213.50" x2="276.10" y2="257.50" stroke="#999" stroke-width="0.5" />
<line x1="514.50" y1="213.50" x2="514.50" y2="257.50" stroke="#cfcfcf" stroke-width="0.5" />
<rect x="278.73" y="232.72" width="2.70" height="24.77" fill="url(#gn)" stroke="#20204e" stroke-width="0.45"/>
<rect x="281.88" y="222.32" width="2.70" height="35.18" fill="url(#gg)" stroke="#5e4c0e" stroke-width="0.45"/>
<rect x="294.61" y="255.62" width="2.70" height="1.87" fill="url(#gn)" stroke="#20204e" stroke-width="0.45"/>
<rect x="297.75" y="247.32" width="2.70" height="10.18" fill="url(#gl)" stroke="#8c7ca8" stroke-width="0.45"/>
<rect x="300.91" y="250.12" width="2.70" height="7.37" fill="url(#gg)" stroke="#5e4c0e" stroke-width="0.45"/>
<rect x="310.49" y="232.12" width="2.70" height="25.37" fill="url(#gn)" stroke="#20204e" stroke-width="0.45"/>
<rect x="313.63" y="230.12" width="2.70" height="27.37" fill="url(#gl)" stroke="#8c7ca8" stroke-width="0.45"/>
<rect x="316.79" y="217.92" width="2.70" height="39.58" fill="url(#gg)" stroke="#5e4c0e" stroke-width="0.45"/>
<rect x="326.37" y="256.73" width="2.70" height="0.78" fill="url(#gn)" stroke="#20204e" stroke-width="0.45"/>
<rect x="329.51" y="256.23" width="2.70" height="1.27" fill="url(#gl)" stroke="#8c7ca8" stroke-width="0.45"/>
<rect x="332.67" y="255.42" width="2.70" height="2.08" fill="url(#gg)" stroke="#5e4c0e" stroke-width="0.45"/>
<rect x="342.25" y="255.42" width="2.70" height="2.08" fill="url(#gn)" stroke="#20204e" stroke-width="0.45"/>
<rect x="345.39" y="255.03" width="2.70" height="2.47" fill="url(#gl)" stroke="#8c7ca8" stroke-width="0.45"/>
<rect x="348.55" y="252.53" width="2.70" height="4.97" fill="url(#gg)" stroke="#5e4c0e" stroke-width="0.45"/>
<rect x="358.12" y="254.62" width="2.70" height="2.87" fill="url(#gn)" stroke="#20204e" stroke-width="0.45"/>
<rect x="361.27" y="255.72" width="2.70" height="1.77" fill="url(#gl)" stroke="#8c7ca8" stroke-width="0.45"/>
<rect x="374.00" y="252.12" width="2.70" height="5.37" fill="url(#gn)" stroke="#20204e" stroke-width="0.45"/>
<rect x="393.04" y="246.12" width="2.70" height="11.37" fill="url(#gl)" stroke="#8c7ca8" stroke-width="0.45"/>
<rect x="396.19" y="246.12" width="2.70" height="11.37" fill="url(#gl)" stroke="#8c7ca8" stroke-width="0.45"/>
<rect x="399.34" y="246.12" width="2.70" height="11.37" fill="url(#gg)" stroke="#5e4c0e" stroke-width="0.45"/>
<rect x="421.65" y="256.33" width="2.70" height="1.17" fill="url(#gn)" stroke="#20204e" stroke-width="0.45"/>
<rect x="424.80" y="255.42" width="2.70" height="2.08" fill="url(#gl)" stroke="#8c7ca8" stroke-width="0.45"/>
<rect x="427.95" y="255.22" width="2.70" height="2.27" fill="url(#gl)" stroke="#8c7ca8" stroke-width="0.45"/>
<rect x="431.10" y="256.23" width="2.70" height="1.27" fill="url(#gg)" stroke="#5e4c0e" stroke-width="0.45"/>
<rect x="437.53" y="237.92" width="2.70" height="19.58" fill="url(#gn)" stroke="#20204e" stroke-width="0.45"/>
<rect x="440.68" y="236.62" width="2.70" height="20.87" fill="url(#gl)" stroke="#8c7ca8" stroke-width="0.45"/>
<rect x="443.83" y="235.62" width="2.70" height="21.87" fill="url(#gl)" stroke="#8c7ca8" stroke-width="0.45"/>
<rect x="446.98" y="234.32" width="2.70" height="23.18" fill="url(#gg)" stroke="#5e4c0e" stroke-width="0.45"/>
<rect x="453.41" y="236.62" width="2.70" height="20.87" fill="url(#gn)" stroke="#20204e" stroke-width="0.45"/>
<rect x="456.56" y="233.32" width="2.70" height="24.18" fill="url(#gl)" stroke="#8c7ca8" stroke-width="0.45"/>
<rect x="469.29" y="248.32" width="2.70" height="9.18" fill="url(#gn)" stroke="#20204e" stroke-width="0.45"/>
<rect x="472.44" y="250.12" width="2.70" height="7.37" fill="url(#gl)" stroke="#8c7ca8" stroke-width="0.45"/>
<rect x="475.59" y="253.12" width="2.70" height="4.37" fill="url(#gg)" stroke="#5e4c0e" stroke-width="0.45"/>
<rect x="485.17" y="257.03" width="2.70" height="0.47" fill="url(#gn)" stroke="#20204e" stroke-width="0.45"/>
<rect x="501.05" y="242.42" width="2.70" height="15.08" fill="url(#gn)" stroke="#20204e" stroke-width="0.45"/>
<rect x="504.20" y="236.03" width="2.70" height="21.47" fill="url(#gl)" stroke="#8c7ca8" stroke-width="0.45"/>
<rect x="507.35" y="242.03" width="2.70" height="15.47" fill="url(#gg)" stroke="#5e4c0e" stroke-width="0.45"/>
<line x1="276.10" y1="257.50" x2="514.50" y2="257.50" stroke="#8a8a8a" stroke-width="0.6" />
<line x1="276.10" y1="257.50" x2="276.10" y2="258.70" stroke="#999" stroke-width="0.4" />
<line x1="291.98" y1="257.50" x2="291.98" y2="258.70" stroke="#999" stroke-width="0.4" />
<line x1="307.86" y1="257.50" x2="307.86" y2="258.70" stroke="#999" stroke-width="0.4" />
<line x1="323.74" y1="257.50" x2="323.74" y2="258.70" stroke="#999" stroke-width="0.4" />
<line x1="339.62" y1="257.50" x2="339.62" y2="258.70" stroke="#999" stroke-width="0.4" />
<line x1="355.50" y1="257.50" x2="355.50" y2="258.70" stroke="#999" stroke-width="0.4" />
<line x1="371.38" y1="257.50" x2="371.38" y2="258.70" stroke="#999" stroke-width="0.4" />
<line x1="387.26" y1="257.50" x2="387.26" y2="258.70" stroke="#999" stroke-width="0.4" />
<line x1="403.14" y1="257.50" x2="403.14" y2="258.70" stroke="#999" stroke-width="0.4" />
<line x1="419.02" y1="257.50" x2="419.02" y2="258.70" stroke="#999" stroke-width="0.4" />
<line x1="434.90" y1="257.50" x2="434.90" y2="258.70" stroke="#999" stroke-width="0.4" />
<line x1="450.78" y1="257.50" x2="450.78" y2="258.70" stroke="#999" stroke-width="0.4" />
<line x1="466.66" y1="257.50" x2="466.66" y2="258.70" stroke="#999" stroke-width="0.4" />
<line x1="482.54" y1="257.50" x2="482.54" y2="258.70" stroke="#999" stroke-width="0.4" />
<line x1="498.42" y1="257.50" x2="498.42" y2="258.70" stroke="#999" stroke-width="0.4" />
<line x1="514.30" y1="257.50" x2="514.30" y2="258.70" stroke="#999" stroke-width="0.4" />
<circle cx="298.7" cy="241.9" r="0.8" fill="#333"/>
<circle cx="329" cy="249.7" r="0.8" fill="#333"/>
<circle cx="347.1" cy="245.9" r="0.8" fill="#333"/>
<circle cx="395.7" cy="236.7" r="0.8" fill="#333"/>
<circle cx="489.7" cy="249.9" r="0.8" fill="#333"/>
<text x="0" y="0" font-size="5.40" font-family="Liberation Serif" font-weight="bold" text-anchor="end" fill="#1a1a1a" stroke="#1a1a1a" stroke-width="0.2" transform="translate(285.04,264.30) rotate(-45) scale(0.8333,1)">CLL_300</text>
<text x="0" y="0" font-size="5.40" font-family="Liberation Serif" font-weight="bold" text-anchor="end" fill="#1a1a1a" stroke="#1a1a1a" stroke-width="0.2" transform="translate(300.92,264.30) rotate(-45) scale(0.8333,1)">CLL_303</text>
<text x="0" y="0" font-size="5.40" font-family="Liberation Serif" font-weight="bold" text-anchor="end" fill="#1a1a1a" stroke="#1a1a1a" stroke-width="0.2" transform="translate(316.80,264.30) rotate(-45) scale(0.8333,1)">CLL_307</text>
<text x="0" y="0" font-size="5.40" font-family="Liberation Serif" font-weight="bold" text-anchor="end" fill="#1a1a1a" stroke="#1a1a1a" stroke-width="0.2" transform="translate(332.68,264.30) rotate(-45) scale(0.8333,1)">CLL_314</text>
<text x="0" y="0" font-size="5.40" font-family="Liberation Serif" font-weight="bold" text-anchor="end" fill="#1a1a1a" stroke="#1a1a1a" stroke-width="0.2" transform="translate(348.56,264.30) rotate(-45) scale(0.8333,1)">CLL_317</text>
<text x="0" y="0" font-size="5.40" font-family="Liberation Serif" font-weight="bold" text-anchor="end" fill="#1a1a1a" stroke="#1a1a1a" stroke-width="0.2" transform="translate(364.44,264.30) rotate(-45) scale(0.8333,1)">CLL_343</text>
<text x="0" y="0" font-size="5.40" font-family="Liberation Serif" font-weight="bold" text-anchor="end" fill="#1a1a1a" stroke="#1a1a1a" stroke-width="0.2" transform="translate(380.32,264.30) rotate(-45) scale(0.8333,1)">CLL_316</text>
<text x="0" y="0" font-size="5.40" font-family="Liberation Serif" font-weight="bold" text-anchor="end" fill="#1a1a1a" stroke="#1a1a1a" stroke-width="0.2" transform="translate(396.20,264.30) rotate(-45) scale(0.8333,1)">CLL_304</text>
<text x="0" y="0" font-size="5.40" font-family="Liberation Serif" font-weight="bold" text-anchor="end" fill="#1a1a1a" stroke="#1a1a1a" stroke-width="0.2" transform="translate(412.08,264.30) rotate(-45) scale(0.8333,1)">CLL_347</text>
<text x="0" y="0" font-size="5.40" font-family="Liberation Serif" font-weight="bold" text-anchor="end" fill="#1a1a1a" stroke="#1a1a1a" stroke-width="0.2" transform="translate(427.96,264.30) rotate(-45) scale(0.8333,1)">CLL_324</text>
<text x="0" y="0" font-size="5.40" font-family="Liberation Serif" font-weight="bold" text-anchor="end" fill="#1a1a1a" stroke="#1a1a1a" stroke-width="0.2" transform="translate(443.84,264.30) rotate(-45) scale(0.8333,1)">CLL_307</text>
<text x="0" y="0" font-size="5.40" font-family="Liberation Serif" font-weight="bold" text-anchor="end" fill="#1a1a1a" stroke="#1a1a1a" stroke-width="0.2" transform="translate(459.72,264.30) rotate(-45) scale(0.8333,1)">CLL_327</text>
<text x="0" y="0" font-size="5.40" font-family="Liberation Serif" font-weight="bold" text-anchor="end" fill="#1a1a1a" stroke="#1a1a1a" stroke-width="0.2" transform="translate(475.60,264.30) rotate(-45) scale(0.8333,1)">CLL_362</text>
<text x="0" y="0" font-size="5.40" font-family="Liberation Serif" font-weight="bold" text-anchor="end" fill="#1a1a1a" stroke="#1a1a1a" stroke-width="0.2" transform="translate(491.48,264.30) rotate(-45) scale(0.8333,1)">CLL_350</text>
<text x="0" y="0" font-size="5.40" font-family="Liberation Serif" font-weight="bold" text-anchor="end" fill="#1a1a1a" stroke="#1a1a1a" stroke-width="0.2" transform="translate(507.36,264.30) rotate(-45) scale(0.8333,1)">CLL_341</text>
<line x1="16.20" y1="310.30" x2="255.50" y2="310.30" stroke="#e2e2e2" stroke-width="0.6" />
<line x1="15.00" y1="310.30" x2="16.20" y2="310.30" stroke="#999" stroke-width="0.4" />
<text transform="translate(12.6,311.45) scale(0.9091,1)" x="0" y="0" font-size="3.410" font-family="Liberation Serif" font-weight="bold" text-anchor="end" fill="#111" stroke="#111" stroke-width="0.2" >18</text>
<line x1="16.20" y1="313.75" x2="255.50" y2="313.75" stroke="#e2e2e2" stroke-width="0.6" />
<line x1="15.00" y1="313.75" x2="16.20" y2="313.75" stroke="#999" stroke-width="0.4" />
<text transform="translate(12.6,314.9) scale(0.9091,1)" x="0" y="0" font-size="3.410" font-family="Liberation Serif" font-weight="bold" text-anchor="end" fill="#111" stroke="#111" stroke-width="0.2" >16.5</text>
<line x1="16.20" y1="317.20" x2="255.50" y2="317.20" stroke="#e2e2e2" stroke-width="0.6" />
<line x1="15.00" y1="317.20" x2="16.20" y2="317.20" stroke="#999" stroke-width="0.4" />
<text transform="translate(12.6,318.34999999999997) scale(0.9091,1)" x="0" y="0" font-size="3.410" font-family="Liberation Serif" font-weight="bold" text-anchor="end" fill="#111" stroke="#111" stroke-width="0.2" >15</text>
<line x1="16.20" y1="320.65" x2="255.50" y2="320.65" stroke="#e2e2e2" stroke-width="0.6" />
<line x1="15.00" y1="320.65" x2="16.20" y2="320.65" stroke="#999" stroke-width="0.4" />
<text transform="translate(12.6,321.79999999999995) scale(0.9091,1)" x="0" y="0" font-size="3.410" font-family="Liberation Serif" font-weight="bold" text-anchor="end" fill="#111" stroke="#111" stroke-width="0.2" >13.5</text>
<line x1="16.20" y1="324.10" x2="255.50" y2="324.10" stroke="#e2e2e2" stroke-width="0.6" />
<line x1="15.00" y1="324.10" x2="16.20" y2="324.10" stroke="#999" stroke-width="0.4" />
<text transform="translate(12.6,325.25) scale(0.9091,1)" x="0" y="0" font-size="3.410" font-family="Liberation Serif" font-weight="bold" text-anchor="end" fill="#111" stroke="#111" stroke-width="0.2" >12</text>
<line x1="16.20" y1="327.55" x2="255.50" y2="327.55" stroke="#e2e2e2" stroke-width="0.6" />
<line x1="15.00" y1="327.55" x2="16.20" y2="327.55" stroke="#999" stroke-width="0.4" />
<text transform="translate(12.6,328.7) scale(0.9091,1)" x="0" y="0" font-size="3.410" font-family="Liberation Serif" font-weight="bold" text-anchor="end" fill="#111" stroke="#111" stroke-width="0.2" >10.5</text>
<line x1="16.20" y1="331.00" x2="255.50" y2="331.00" stroke="#e2e2e2" stroke-width="0.6" />
<line x1="15.00" y1="331.00" x2="16.20" y2="331.00" stroke="#999" stroke-width="0.4" />
<text transform="translate(12.6,332.15) scale(0.9091,1)" x="0" y="0" font-size="3.410" font-family="Liberation Serif" font-weight="bold" text-anchor="end" fill="#111" stroke="#111" stroke-width="0.2" >9</text>
<line x1="16.20" y1="334.45" x2="255.50" y2="334.45" stroke="#e2e2e2" stroke-width="0.6" />
<line x1="15.00" y1="334.45" x2="16.20" y2="334.45" stroke="#999" stroke-width="0.4" />
<text transform="translate(12.6,335.59999999999997) scale(0.9091,1)" x="0" y="0" font-size="3.410" font-family="Liberation Serif" font-weight="bold" text-anchor="end" fill="#111" stroke="#111" stroke-width="0.2" >7.5</text>
<line x1="16.20" y1="337.90" x2="255.50" y2="337.90" stroke="#e2e2e2" stroke-width="0.6" />
<line x1="15.00" y1="337.90" x2="16.20" y2="337.90" stroke="#999" stroke-width="0.4" />
<text transform="translate(12.6,339.04999999999995) scale(0.9091,1)" x="0" y="0" font-size="3.410" font-family="Liberation Serif" font-weight="bold" text-anchor="end" fill="#111" stroke="#111" stroke-width="0.2" >6</text>
<line x1="16.20" y1="341.35" x2="255.50" y2="341.35" stroke="#e2e2e2" stroke-width="0.6" />
<line x1="15.00" y1="341.35" x2="16.20" y2="341.35" stroke="#999" stroke-width="0.4" />
<text transform="translate(12.6,342.5) scale(0.9091,1)" x="0" y="0" font-size="3.410" font-family="Liberation Serif" font-weight="bold" text-anchor="end" fill="#111" stroke="#111" stroke-width="0.2" >4.5</text>
<line x1="16.20" y1="344.80" x2="255.50" y2="344.80" stroke="#e2e2e2" stroke-width="0.6" />
<line x1="15.00" y1="344.80" x2="16.20" y2="344.80" stroke="#999" stroke-width="0.4" />
<text transform="translate(12.6,345.95) scale(0.9091,1)" x="0" y="0" font-size="3.410" font-family="Liberation Serif" font-weight="bold" text-anchor="end" fill="#111" stroke="#111" stroke-width="0.2" >3</text>
<line x1="16.20" y1="348.25" x2="255.50" y2="348.25" stroke="#e2e2e2" stroke-width="0.6" />
<line x1="15.00" y1="348.25" x2="16.20" y2="348.25" stroke="#999" stroke-width="0.4" />
<text transform="translate(12.6,349.4) scale(0.9091,1)" x="0" y="0" font-size="3.410" font-family="Liberation Serif" font-weight="bold" text-anchor="end" fill="#111" stroke="#111" stroke-width="0.2" >1.5</text>
<line x1="15.00" y1="351.70" x2="16.20" y2="351.70" stroke="#999" stroke-width="0.4" />
<text transform="translate(12.6,352.84999999999997) scale(0.9091,1)" x="0" y="0" font-size="3.410" font-family="Liberation Serif" font-weight="bold" text-anchor="end" fill="#111" stroke="#111" stroke-width="0.2" >0</text>
<line x1="16.20" y1="310.30" x2="255.50" y2="310.30" stroke="#c6c6c6" stroke-width="0.7" />
<line x1="16.20" y1="310.30" x2="16.20" y2="351.70" stroke="#999" stroke-width="0.5" />
<line x1="255.50" y1="310.30" x2="255.50" y2="351.70" stroke="#cfcfcf" stroke-width="0.5" />
<rect x="17.62" y="346.03" width="2.25" height="5.67" fill="url(#gN)" stroke="#20204e" stroke-width="0.45"/>
<rect x="20.32" y="348.43" width="2.25" height="3.27" fill="url(#gl)" stroke="#8c7ca8" stroke-width="0.45"/>
<rect x="23.02" y="349.73" width="2.25" height="1.97" fill="url(#gl)" stroke="#8c7ca8" stroke-width="0.45"/>
<rect x="25.73" y="349.73" width="2.25" height="1.97" fill="url(#gG)" stroke="#5e4c0e" stroke-width="0.45"/>
<rect x="30.93" y="351.23" width="2.25" height="0.47" fill="url(#gN)" stroke="#20204e" stroke-width="0.45"/>
<rect x="33.62" y="350.83" width="2.25" height="0.87" fill="url(#gl)" stroke="#8c7ca8" stroke-width="0.45"/>
<rect x="36.33" y="350.83" width="2.25" height="0.87" fill="url(#gl)" stroke="#8c7ca8" stroke-width="0.45"/>
<rect x="39.02" y="350.53" width="2.25" height="1.17" fill="url(#gG)" stroke="#5e4c0e" stroke-width="0.45"/>
<rect x="44.23" y="324.33" width="2.25" height="27.37" fill="url(#gN)" stroke="#20204e" stroke-width="0.45"/>
<rect x="46.93" y="346.62" width="2.25" height="5.08" fill="url(#gl)" stroke="#8c7ca8" stroke-width="0.45"/>
<rect x="49.62" y="346.62" width="2.25" height="5.08" fill="url(#gl)" stroke="#8c7ca8" stroke-width="0.45"/>
<rect x="52.33" y="346.62" width="2.25" height="5.08" fill="url(#gG)" stroke="#5e4c0e" stroke-width="0.45"/>
<rect x="57.53" y="350.43" width="2.25" height="1.27" fill="url(#gN)" stroke="#20204e" stroke-width="0.45"/>
<rect x="60.23" y="347.33" width="2.25" height="4.37" fill="url(#gl)" stroke="#8c7ca8" stroke-width="0.45"/>
<rect x="62.93" y="347.73" width="2.25" height="3.97" fill="url(#gl)" stroke="#8c7ca8" stroke-width="0.45"/>
<rect x="65.62" y="348.43" width="2.25" height="3.27" fill="url(#gG)" stroke="#5e4c0e" stroke-width="0.45"/>
<rect x="70.83" y="345.93" width="2.25" height="5.78" fill="url(#gN)" stroke="#20204e" stroke-width="0.45"/>
<rect x="73.53" y="335.12" width="2.25" height="16.58" fill="url(#gG)" stroke="#5e4c0e" stroke-width="0.45"/>
<rect x="84.12" y="347.83" width="2.25" height="3.87" fill="url(#gN)" stroke="#20204e" stroke-width="0.45"/>
<rect x="86.83" y="348.23" width="2.25" height="3.47" fill="url(#gl)" stroke="#8c7ca8" stroke-width="0.45"/>
<rect x="89.53" y="348.33" width="2.25" height="3.37" fill="url(#gG)" stroke="#5e4c0e" stroke-width="0.45"/>
<rect x="97.43" y="347.53" width="2.25" height="4.17" fill="url(#gN)" stroke="#20204e" stroke-width="0.45"/>
<rect x="100.13" y="314.12" width="2.25" height="37.58" fill="url(#gG)" stroke="#5e4c0e" stroke-width="0.45"/>
<rect x="110.73" y="349.12" width="2.25" height="2.58" fill="url(#gN)" stroke="#20204e" stroke-width="0.45"/>
<rect x="113.43" y="346.53" width="2.25" height="5.17" fill="url(#gl)" stroke="#8c7ca8" stroke-width="0.45"/>
<rect x="116.13" y="313.62" width="2.25" height="38.08" fill="url(#gG)" stroke="#5e4c0e" stroke-width="0.45"/>
<rect x="124.03" y="348.43" width="2.25" height="3.27" fill="url(#gN)" stroke="#20204e" stroke-width="0.45"/>
<rect x="126.73" y="348.43" width="2.25" height="3.27" fill="url(#gG)" stroke="#5e4c0e" stroke-width="0.45"/>
<rect x="137.32" y="346.03" width="2.25" height="5.67" fill="url(#gN)" stroke="#20204e" stroke-width="0.45"/>
<rect x="140.02" y="342.62" width="2.25" height="9.08" fill="url(#gG)" stroke="#5e4c0e" stroke-width="0.45"/>
<rect x="150.62" y="344.43" width="2.25" height="7.28" fill="url(#gN)" stroke="#20204e" stroke-width="0.45"/>
<rect x="153.32" y="348.03" width="2.25" height="3.67" fill="url(#gG)" stroke="#5e4c0e" stroke-width="0.45"/>
<rect x="163.92" y="348.73" width="2.25" height="2.97" fill="url(#gN)" stroke="#20204e" stroke-width="0.45"/>
<rect x="166.62" y="345.23" width="2.25" height="6.47" fill="url(#gG)" stroke="#5e4c0e" stroke-width="0.45"/>
<rect x="177.22" y="350.12" width="2.25" height="1.58" fill="url(#gN)" stroke="#20204e" stroke-width="0.45"/>
<rect x="179.92" y="350.93" width="2.25" height="0.78" fill="url(#gG)" stroke="#5e4c0e" stroke-width="0.45"/>
<rect x="190.52" y="348.43" width="2.25" height="3.27" fill="url(#gN)" stroke="#20204e" stroke-width="0.45"/>
<rect x="193.22" y="348.03" width="2.25" height="3.67" fill="url(#gG)" stroke="#5e4c0e" stroke-width="0.45"/>
<rect x="203.82" y="350.93" width="2.25" height="0.78" fill="url(#gN)" stroke="#20204e" stroke-width="0.45"/>
<rect x="206.52" y="349.83" width="2.25" height="1.87" fill="url(#gl)" stroke="#8c7ca8" stroke-width="0.45"/>
<rect x="209.22" y="350.93" width="2.25" height="0.78" fill="url(#gG)" stroke="#5e4c0e" stroke-width="0.45"/>
<rect x="217.12" y="348.43" width="2.25" height="3.27" fill="url(#gN)" stroke="#20204e" stroke-width="0.45"/>
<rect x="219.82" y="334.43" width="2.25" height="17.27" fill="url(#gG)" stroke="#5e4c0e" stroke-width="0.45"/>
<rect x="230.42" y="349.03" width="2.25" height="2.67" fill="url(#gN)" stroke="#20204e" stroke-width="0.45"/>
<rect x="233.12" y="350.23" width="2.25" height="1.47" fill="url(#gl)" stroke="#8c7ca8" stroke-width="0.45"/>
<rect x="235.82" y="349.43" width="2.25" height="2.27" fill="url(#gG)" stroke="#5e4c0e" stroke-width="0.45"/>
<rect x="243.72" y="348.33" width="2.25" height="3.37" fill="url(#gN)" stroke="#20204e" stroke-width="0.45"/>
<rect x="246.42" y="349.03" width="2.25" height="2.67" fill="url(#gG)" stroke="#5e4c0e" stroke-width="0.45"/>
<line x1="16.20" y1="351.70" x2="255.50" y2="351.70" stroke="#8a8a8a" stroke-width="0.6" />
<line x1="16.20" y1="351.70" x2="16.20" y2="352.90" stroke="#999" stroke-width="0.4" />
<line x1="29.50" y1="351.70" x2="29.50" y2="352.90" stroke="#999" stroke-width="0.4" />
<line x1="42.80" y1="351.70" x2="42.80" y2="352.90" stroke="#999" stroke-width="0.4" />
<line x1="56.10" y1="351.70" x2="56.10" y2="352.90" stroke="#999" stroke-width="0.4" />
<line x1="69.40" y1="351.70" x2="69.40" y2="352.90" stroke="#999" stroke-width="0.4" />
<line x1="82.70" y1="351.70" x2="82.70" y2="352.90" stroke="#999" stroke-width="0.4" />
<line x1="96.00" y1="351.70" x2="96.00" y2="352.90" stroke="#999" stroke-width="0.4" />
<line x1="109.30" y1="351.70" x2="109.30" y2="352.90" stroke="#999" stroke-width="0.4" />
<line x1="122.60" y1="351.70" x2="122.60" y2="352.90" stroke="#999" stroke-width="0.4" />
<line x1="135.90" y1="351.70" x2="135.90" y2="352.90" stroke="#999" stroke-width="0.4" />
<line x1="149.20" y1="351.70" x2="149.20" y2="352.90" stroke="#999" stroke-width="0.4" />
<line x1="162.50" y1="351.70" x2="162.50" y2="352.90" stroke="#999" stroke-width="0.4" />
<line x1="175.80" y1="351.70" x2="175.80" y2="352.90" stroke="#999" stroke-width="0.4" />
<line x1="189.10" y1="351.70" x2="189.10" y2="352.90" stroke="#999" stroke-width="0.4" />
<line x1="202.40" y1="351.70" x2="202.40" y2="352.90" stroke="#999" stroke-width="0.4" />
<line x1="215.70" y1="351.70" x2="215.70" y2="352.90" stroke="#999" stroke-width="0.4" />
<line x1="229.00" y1="351.70" x2="229.00" y2="352.90" stroke="#999" stroke-width="0.4" />
<line x1="242.30" y1="351.70" x2="242.30" y2="352.90" stroke="#999" stroke-width="0.4" />
<line x1="255.60" y1="351.70" x2="255.60" y2="352.90" stroke="#999" stroke-width="0.4" />
<circle cx="62.2" cy="342" r="0.8" fill="#333"/>
<circle cx="72.5" cy="331.5" r="0.8" fill="#333"/>
<circle cx="99.2" cy="311.4" r="0.8" fill="#333"/>
<circle cx="114.5" cy="311.2" r="0.8" fill="#333"/>
<circle cx="166.2" cy="338.8" r="0.8" fill="#333"/>
<circle cx="219" cy="329.9" r="0.8" fill="#333"/>
<text x="0" y="0" font-size="5.40" font-family="Liberation Serif" font-weight="bold" text-anchor="end" fill="#1a1a1a" stroke="#1a1a1a" stroke-width="0.2" transform="translate(23.85,359.80) rotate(-45) scale(0.8333,1)">CLL_212</text>
<text x="0" y="0" font-size="5.40" font-family="Liberation Serif" font-weight="bold" text-anchor="end" fill="#1a1a1a" stroke="#1a1a1a" stroke-width="0.2" transform="translate(37.15,359.80) rotate(-45) scale(0.8333,1)">CLL_228</text>
<text x="0" y="0" font-size="5.40" font-family="Liberation Serif" font-weight="bold" text-anchor="end" fill="#1a1a1a" stroke="#1a1a1a" stroke-width="0.2" transform="translate(50.45,359.80) rotate(-45) scale(0.8333,1)">CLL_233</text>
<text x="0" y="0" font-size="5.40" font-family="Liberation Serif" font-weight="bold" text-anchor="end" fill="#1a1a1a" stroke="#1a1a1a" stroke-width="0.2" transform="translate(63.75,359.80) rotate(-45) scale(0.8333,1)">CLL_238</text>
<text x="0" y="0" font-size="5.40" font-family="Liberation Serif" font-weight="bold" text-anchor="end" fill="#1a1a1a" stroke="#1a1a1a" stroke-width="0.2" transform="translate(77.05,359.80) rotate(-45) scale(0.8333,1)">CLL_270</text>
<text x="0" y="0" font-size="5.40" font-family="Liberation Serif" font-weight="bold" text-anchor="end" fill="#1a1a1a" stroke="#1a1a1a" stroke-width="0.2" transform="translate(90.35,359.80) rotate(-45) scale(0.8333,1)">CLL_242</text>
<text x="0" y="0" font-size="5.40" font-family="Liberation Serif" font-weight="bold" text-anchor="end" fill="#1a1a1a" stroke="#1a1a1a" stroke-width="0.2" transform="translate(103.65,359.80) rotate(-45) scale(0.8333,1)">CLL_245</text>
<text x="0" y="0" font-size="5.40" font-family="Liberation Serif" font-weight="bold" text-anchor="end" fill="#1a1a1a" stroke="#1a1a1a" stroke-width="0.2" transform="translate(116.95,359.80) rotate(-45) scale(0.8333,1)">CLL_250</text>
<text x="0" y="0" font-size="5.40" font-family="Liberation Serif" font-weight="bold" text-anchor="end" fill="#1a1a1a" stroke="#1a1a1a" stroke-width="0.2" transform="translate(130.25,359.80) rotate(-45) scale(0.8333,1)">CLL_259</text>
<text x="0" y="0" font-size="5.40" font-family="Liberation Serif" font-weight="bold" text-anchor="end" fill="#1a1a1a" stroke="#1a1a1a" stroke-width="0.2" transform="translate(143.55,359.80) rotate(-45) scale(0.8333,1)">CLL_354</text>
<text x="0" y="0" font-size="5.40" font-family="Liberation Serif" font-weight="bold" text-anchor="end" fill="#1a1a1a" stroke="#1a1a1a" stroke-width="0.2" transform="translate(156.85,359.80) rotate(-45) scale(0.8333,1)">CLL_356</text>
<text x="0" y="0" font-size="5.40" font-family="Liberation Serif" font-weight="bold" text-anchor="end" fill="#1a1a1a" stroke="#1a1a1a" stroke-width="0.2" transform="translate(170.15,359.80) rotate(-45) scale(0.8333,1)">CLL_358</text>
<text x="0" y="0" font-size="5.40" font-family="Liberation Serif" font-weight="bold" text-anchor="end" fill="#1a1a1a" stroke="#1a1a1a" stroke-width="0.2" transform="translate(183.45,359.80) rotate(-45) scale(0.8333,1)">CLL_360</text>
<text x="0" y="0" font-size="5.40" font-family="Liberation Serif" font-weight="bold" text-anchor="end" fill="#1a1a1a" stroke="#1a1a1a" stroke-width="0.2" transform="translate(196.75,359.80) rotate(-45) scale(0.8333,1)">CLL_344</text>
<text x="0" y="0" font-size="5.40" font-family="Liberation Serif" font-weight="bold" text-anchor="end" fill="#1a1a1a" stroke="#1a1a1a" stroke-width="0.2" transform="translate(210.05,359.80) rotate(-45) scale(0.8333,1)">CLL_351</text>
<text x="0" y="0" font-size="5.40" font-family="Liberation Serif" font-weight="bold" text-anchor="end" fill="#1a1a1a" stroke="#1a1a1a" stroke-width="0.2" transform="translate(223.35,359.80) rotate(-45) scale(0.8333,1)">CLL_362</text>
<text x="0" y="0" font-size="5.40" font-family="Liberation Serif" font-weight="bold" text-anchor="end" fill="#1a1a1a" stroke="#1a1a1a" stroke-width="0.2" transform="translate(236.65,359.80) rotate(-45) scale(0.8333,1)">CLL_365</text>
<text x="0" y="0" font-size="5.40" font-family="Liberation Serif" font-weight="bold" text-anchor="end" fill="#1a1a1a" stroke="#1a1a1a" stroke-width="0.2" transform="translate(249.95,359.80) rotate(-45) scale(0.8333,1)">CLL_366</text>
<line x1="276.90" y1="309.20" x2="512.50" y2="309.20" stroke="#ececec" stroke-width="0.6" />
<line x1="275.70" y1="309.20" x2="276.90" y2="309.20" stroke="#999" stroke-width="0.4" />
<text transform="translate(273.4,310.34999999999997) scale(0.9091,1)" x="0" y="0" font-size="3.410" font-family="Liberation Serif" font-weight="bold" text-anchor="end" fill="#111" stroke="#111" stroke-width="0.2" >4.8</text>
<line x1="276.90" y1="312.79" x2="512.50" y2="312.79" stroke="#ececec" stroke-width="0.6" />
<line x1="275.70" y1="312.79" x2="276.90" y2="312.79" stroke="#999" stroke-width="0.4" />
<text transform="translate(273.4,313.9416666666666) scale(0.9091,1)" x="0" y="0" font-size="3.410" font-family="Liberation Serif" font-weight="bold" text-anchor="end" fill="#111" stroke="#111" stroke-width="0.2" >4.4</text>
<line x1="276.90" y1="316.38" x2="512.50" y2="316.38" stroke="#ececec" stroke-width="0.6" />
<line x1="275.70" y1="316.38" x2="276.90" y2="316.38" stroke="#999" stroke-width="0.4" />
<text transform="translate(273.4,317.5333333333333) scale(0.9091,1)" x="0" y="0" font-size="3.410" font-family="Liberation Serif" font-weight="bold" text-anchor="end" fill="#111" stroke="#111" stroke-width="0.2" >4</text>
<line x1="276.90" y1="319.98" x2="512.50" y2="319.98" stroke="#ececec" stroke-width="0.6" />
<line x1="275.70" y1="319.98" x2="276.90" y2="319.98" stroke="#999" stroke-width="0.4" />
<text transform="translate(273.4,321.125) scale(0.9091,1)" x="0" y="0" font-size="3.410" font-family="Liberation Serif" font-weight="bold" text-anchor="end" fill="#111" stroke="#111" stroke-width="0.2" >3.6</text>
<line x1="276.90" y1="323.57" x2="512.50" y2="323.57" stroke="#ececec" stroke-width="0.6" />
<line x1="275.70" y1="323.57" x2="276.90" y2="323.57" stroke="#999" stroke-width="0.4" />
<text transform="translate(273.4,324.71666666666664) scale(0.9091,1)" x="0" y="0" font-size="3.410" font-family="Liberation Serif" font-weight="bold" text-anchor="end" fill="#111" stroke="#111" stroke-width="0.2" >3.2</text>
<line x1="276.90" y1="327.16" x2="512.50" y2="327.16" stroke="#ececec" stroke-width="0.6" />
<line x1="275.70" y1="327.16" x2="276.90" y2="327.16" stroke="#999" stroke-width="0.4" />
<text transform="translate(273.4,328.3083333333333) scale(0.9091,1)" x="0" y="0" font-size="3.410" font-family="Liberation Serif" font-weight="bold" text-anchor="end" fill="#111" stroke="#111" stroke-width="0.2" >2.8</text>
<line x1="276.90" y1="330.75" x2="512.50" y2="330.75" stroke="#ececec" stroke-width="0.6" />
<line x1="275.70" y1="330.75" x2="276.90" y2="330.75" stroke="#999" stroke-width="0.4" />
<text transform="translate(273.4,331.9) scale(0.9091,1)" x="0" y="0" font-size="3.410" font-family="Liberation Serif" font-weight="bold" text-anchor="end" fill="#111" stroke="#111" stroke-width="0.2" >2.4</text>
<line x1="276.90" y1="334.34" x2="512.50" y2="334.34" stroke="#ececec" stroke-width="0.6" />
<line x1="275.70" y1="334.34" x2="276.90" y2="334.34" stroke="#999" stroke-width="0.4" />
<text transform="translate(273.4,335.4916666666667) scale(0.9091,1)" x="0" y="0" font-size="3.410" font-family="Liberation Serif" font-weight="bold" text-anchor="end" fill="#111" stroke="#111" stroke-width="0.2" >2</text>
<line x1="276.90" y1="337.93" x2="512.50" y2="337.93" stroke="#ececec" stroke-width="0.6" />
<line x1="275.70" y1="337.93" x2="276.90" y2="337.93" stroke="#999" stroke-width="0.4" />
<text transform="translate(273.4,339.0833333333333) scale(0.9091,1)" x="0" y="0" font-size="3.410" font-family="Liberation Serif" font-weight="bold" text-anchor="end" fill="#111" stroke="#111" stroke-width="0.2" >1.6</text>
<line x1="276.90" y1="341.52" x2="512.50" y2="341.52" stroke="#ececec" stroke-width="0.6" />
<line x1="275.70" y1="341.52" x2="276.90" y2="341.52" stroke="#999" stroke-width="0.4" />
<text transform="translate(273.4,342.67499999999995) scale(0.9091,1)" x="0" y="0" font-size="3.410" font-family="Liberation Serif" font-weight="bold" text-anchor="end" fill="#111" stroke="#111" stroke-width="0.2" >1.2</text>
<line x1="276.90" y1="345.12" x2="512.50" y2="345.12" stroke="#ececec" stroke-width="0.6" />
<line x1="275.70" y1="345.12" x2="276.90" y2="345.12" stroke="#999" stroke-width="0.4" />
<text transform="translate(273.4,346.26666666666665) scale(0.9091,1)" x="0" y="0" font-size="3.410" font-family="Liberation Serif" font-weight="bold" text-anchor="end" fill="#111" stroke="#111" stroke-width="0.2" >0.8</text>
<line x1="276.90" y1="348.71" x2="512.50" y2="348.71" stroke="#ececec" stroke-width="0.6" />
<line x1="275.70" y1="348.71" x2="276.90" y2="348.71" stroke="#999" stroke-width="0.4" />
<text transform="translate(273.4,349.85833333333335) scale(0.9091,1)" x="0" y="0" font-size="3.410" font-family="Liberation Serif" font-weight="bold" text-anchor="end" fill="#111" stroke="#111" stroke-width="0.2" >0.4</text>
<line x1="275.70" y1="352.30" x2="276.90" y2="352.30" stroke="#999" stroke-width="0.4" />
<text transform="translate(273.4,353.45) scale(0.9091,1)" x="0" y="0" font-size="3.410" font-family="Liberation Serif" font-weight="bold" text-anchor="end" fill="#111" stroke="#111" stroke-width="0.2" >0</text>
<line x1="276.90" y1="309.20" x2="512.50" y2="309.20" stroke="#c6c6c6" stroke-width="0.7" />
<line x1="276.90" y1="309.20" x2="276.90" y2="352.30" stroke="#999" stroke-width="0.5" />
<line x1="512.50" y1="309.20" x2="512.50" y2="352.30" stroke="#cfcfcf" stroke-width="0.5" />
<rect x="279.12" y="324.03" width="2.65" height="28.27" fill="url(#gn)" stroke="#20204e" stroke-width="0.45"/>
<rect x="282.23" y="314.43" width="2.65" height="37.88" fill="url(#gg)" stroke="#5e4c0e" stroke-width="0.45"/>
<rect x="294.87" y="322.12" width="2.65" height="30.18" fill="url(#gn)" stroke="#20204e" stroke-width="0.45"/>
<rect x="297.97" y="329.23" width="2.65" height="23.08" fill="url(#gl)" stroke="#8c7ca8" stroke-width="0.45"/>
<rect x="301.06" y="324.83" width="2.65" height="27.47" fill="url(#gg)" stroke="#5e4c0e" stroke-width="0.45"/>
<rect x="310.61" y="335.03" width="2.65" height="17.27" fill="url(#gn)" stroke="#20204e" stroke-width="0.45"/>
<rect x="313.71" y="333.53" width="2.65" height="18.77" fill="url(#gl)" stroke="#8c7ca8" stroke-width="0.45"/>
<rect x="316.81" y="335.03" width="2.65" height="17.27" fill="url(#gg)" stroke="#5e4c0e" stroke-width="0.45"/>
<rect x="326.35" y="322.12" width="2.65" height="30.18" fill="url(#gn)" stroke="#20204e" stroke-width="0.45"/>
<rect x="329.45" y="332.12" width="2.65" height="20.18" fill="url(#gg)" stroke="#5e4c0e" stroke-width="0.45"/>
<rect x="342.08" y="345.03" width="2.65" height="7.28" fill="url(#gn)" stroke="#20204e" stroke-width="0.45"/>
<rect x="345.19" y="342.12" width="2.65" height="10.18" fill="url(#gl)" stroke="#8c7ca8" stroke-width="0.45"/>
<rect x="348.28" y="345.23" width="2.65" height="7.08" fill="url(#gg)" stroke="#5e4c0e" stroke-width="0.45"/>
<rect x="357.82" y="324.93" width="2.65" height="27.38" fill="url(#gn)" stroke="#20204e" stroke-width="0.45"/>
<rect x="360.93" y="337.83" width="2.65" height="14.47" fill="url(#gl)" stroke="#8c7ca8" stroke-width="0.45"/>
<rect x="373.56" y="349.53" width="2.65" height="2.77" fill="url(#gn)" stroke="#20204e" stroke-width="0.45"/>
<rect x="376.67" y="347.53" width="2.65" height="4.78" fill="url(#gl)" stroke="#8c7ca8" stroke-width="0.45"/>
<rect x="379.76" y="348.23" width="2.65" height="4.08" fill="url(#gl)" stroke="#8c7ca8" stroke-width="0.45"/>
<rect x="382.87" y="350.53" width="2.65" height="1.77" fill="url(#gg)" stroke="#5e4c0e" stroke-width="0.45"/>
<rect x="389.31" y="342.12" width="2.65" height="10.18" fill="url(#gn)" stroke="#20204e" stroke-width="0.45"/>
<rect x="392.41" y="350.23" width="2.65" height="2.08" fill="url(#gl)" stroke="#8c7ca8" stroke-width="0.45"/>
<rect x="395.50" y="347.53" width="2.65" height="4.78" fill="url(#gl)" stroke="#8c7ca8" stroke-width="0.45"/>
<rect x="398.61" y="351.33" width="2.65" height="0.97" fill="url(#gg)" stroke="#5e4c0e" stroke-width="0.45"/>
<rect x="405.05" y="346.23" width="2.65" height="6.08" fill="url(#gn)" stroke="#20204e" stroke-width="0.45"/>
<rect x="420.78" y="346.83" width="2.65" height="5.47" fill="url(#gn)" stroke="#20204e" stroke-width="0.45"/>
<rect x="423.88" y="345.23" width="2.65" height="7.08" fill="url(#gl)" stroke="#8c7ca8" stroke-width="0.45"/>
<rect x="430.08" y="351.43" width="2.65" height="0.88" fill="url(#gg)" stroke="#5e4c0e" stroke-width="0.45"/>
<rect x="436.52" y="342.12" width="2.65" height="10.18" fill="url(#gn)" stroke="#20204e" stroke-width="0.45"/>
<rect x="439.62" y="347.12" width="2.65" height="5.18" fill="url(#gl)" stroke="#8c7ca8" stroke-width="0.45"/>
<rect x="442.72" y="338.53" width="2.65" height="13.78" fill="url(#gl)" stroke="#8c7ca8" stroke-width="0.45"/>
<rect x="445.82" y="342.93" width="2.65" height="9.38" fill="url(#gg)" stroke="#5e4c0e" stroke-width="0.45"/>
<rect x="452.26" y="349.23" width="2.65" height="3.08" fill="url(#gn)" stroke="#20204e" stroke-width="0.45"/>
<rect x="455.37" y="347.43" width="2.65" height="4.88" fill="url(#gl)" stroke="#8c7ca8" stroke-width="0.45"/>
<rect x="468.00" y="342.03" width="2.65" height="10.28" fill="url(#gn)" stroke="#20204e" stroke-width="0.45"/>
<rect x="471.11" y="339.73" width="2.65" height="12.58" fill="url(#gl)" stroke="#8c7ca8" stroke-width="0.45"/>
<rect x="474.20" y="349.23" width="2.65" height="3.08" fill="url(#gg)" stroke="#5e4c0e" stroke-width="0.45"/>
<rect x="483.75" y="336.62" width="2.65" height="15.68" fill="url(#gn)" stroke="#20204e" stroke-width="0.45"/>
<rect x="486.85" y="341.43" width="2.65" height="10.88" fill="url(#gl)" stroke="#8c7ca8" stroke-width="0.45"/>
<rect x="489.94" y="346.12" width="2.65" height="6.18" fill="url(#gg)" stroke="#5e4c0e" stroke-width="0.45"/>
<rect x="499.49" y="344.73" width="2.65" height="7.58" fill="url(#gn)" stroke="#20204e" stroke-width="0.45"/>
<rect x="502.59" y="347.43" width="2.65" height="4.88" fill="url(#gl)" stroke="#8c7ca8" stroke-width="0.45"/>
<rect x="505.69" y="349.23" width="2.65" height="3.08" fill="url(#gg)" stroke="#5e4c0e" stroke-width="0.45"/>
<line x1="276.90" y1="352.30" x2="512.50" y2="352.30" stroke="#8a8a8a" stroke-width="0.6" />
<line x1="276.90" y1="352.30" x2="276.90" y2="353.50" stroke="#999" stroke-width="0.4" />
<line x1="292.64" y1="352.30" x2="292.64" y2="353.50" stroke="#999" stroke-width="0.4" />
<line x1="308.38" y1="352.30" x2="308.38" y2="353.50" stroke="#999" stroke-width="0.4" />
<line x1="324.12" y1="352.30" x2="324.12" y2="353.50" stroke="#999" stroke-width="0.4" />
<line x1="339.86" y1="352.30" x2="339.86" y2="353.50" stroke="#999" stroke-width="0.4" />
<line x1="355.60" y1="352.30" x2="355.60" y2="353.50" stroke="#999" stroke-width="0.4" />
<line x1="371.34" y1="352.30" x2="371.34" y2="353.50" stroke="#999" stroke-width="0.4" />
<line x1="387.08" y1="352.30" x2="387.08" y2="353.50" stroke="#999" stroke-width="0.4" />
<line x1="402.82" y1="352.30" x2="402.82" y2="353.50" stroke="#999" stroke-width="0.4" />
<line x1="418.56" y1="352.30" x2="418.56" y2="353.50" stroke="#999" stroke-width="0.4" />
<line x1="434.30" y1="352.30" x2="434.30" y2="353.50" stroke="#999" stroke-width="0.4" />
<line x1="450.04" y1="352.30" x2="450.04" y2="353.50" stroke="#999" stroke-width="0.4" />
<line x1="465.78" y1="352.30" x2="465.78" y2="353.50" stroke="#999" stroke-width="0.4" />
<line x1="481.52" y1="352.30" x2="481.52" y2="353.50" stroke="#999" stroke-width="0.4" />
<line x1="497.26" y1="352.30" x2="497.26" y2="353.50" stroke="#999" stroke-width="0.4" />
<line x1="513.00" y1="352.30" x2="513.00" y2="353.50" stroke="#999" stroke-width="0.4" />
<text x="0" y="0" font-size="5.40" font-family="Liberation Serif" font-weight="bold" text-anchor="end" fill="#1a1a1a" stroke="#1a1a1a" stroke-width="0.2" transform="translate(283.37,360.00) rotate(-45) scale(0.8333,1)">CLL_300</text>
<text x="0" y="0" font-size="5.40" font-family="Liberation Serif" font-weight="bold" text-anchor="end" fill="#1a1a1a" stroke="#1a1a1a" stroke-width="0.2" transform="translate(299.11,360.00) rotate(-45) scale(0.8333,1)">CLL_303</text>
<text x="0" y="0" font-size="5.40" font-family="Liberation Serif" font-weight="bold" text-anchor="end" fill="#1a1a1a" stroke="#1a1a1a" stroke-width="0.2" transform="translate(314.85,360.00) rotate(-45) scale(0.8333,1)">CLL_307</text>
<text x="0" y="0" font-size="5.40" font-family="Liberation Serif" font-weight="bold" text-anchor="end" fill="#1a1a1a" stroke="#1a1a1a" stroke-width="0.2" transform="translate(330.59,360.00) rotate(-45) scale(0.8333,1)">CLL_314</text>
<text x="0" y="0" font-size="5.40" font-family="Liberation Serif" font-weight="bold" text-anchor="end" fill="#1a1a1a" stroke="#1a1a1a" stroke-width="0.2" transform="translate(346.33,360.00) rotate(-45) scale(0.8333,1)">CLL_317</text>
<text x="0" y="0" font-size="5.40" font-family="Liberation Serif" font-weight="bold" text-anchor="end" fill="#1a1a1a" stroke="#1a1a1a" stroke-width="0.2" transform="translate(362.07,360.00) rotate(-45) scale(0.8333,1)">CLL_343</text>
<text x="0" y="0" font-size="5.40" font-family="Liberation Serif" font-weight="bold" text-anchor="end" fill="#1a1a1a" stroke="#1a1a1a" stroke-width="0.2" transform="translate(377.81,360.00) rotate(-45) scale(0.8333,1)">CLL_316</text>
<text x="0" y="0" font-size="5.40" font-family="Liberation Serif" font-weight="bold" text-anchor="end" fill="#1a1a1a" stroke="#1a1a1a" stroke-width="0.2" transform="translate(393.55,360.00) rotate(-45) scale(0.8333,1)">CLL_304</text>
<text x="0" y="0" font-size="5.40" font-family="Liberation Serif" font-weight="bold" text-anchor="end" fill="#1a1a1a" stroke="#1a1a1a" stroke-width="0.2" transform="translate(409.29,360.00) rotate(-45) scale(0.8333,1)">CLL_347</text>
<text x="0" y="0" font-size="5.40" font-family="Liberation Serif" font-weight="bold" text-anchor="end" fill="#1a1a1a" stroke="#1a1a1a" stroke-width="0.2" transform="translate(425.03,360.00) rotate(-45) scale(0.8333,1)">CLL_324</text>
<text x="0" y="0" font-size="5.40" font-family="Liberation Serif" font-weight="bold" text-anchor="end" fill="#1a1a1a" stroke="#1a1a1a" stroke-width="0.2" transform="translate(440.77,360.00) rotate(-45) scale(0.8333,1)">CLL_307</text>
<text x="0" y="0" font-size="5.40" font-family="Liberation Serif" font-weight="bold" text-anchor="end" fill="#1a1a1a" stroke="#1a1a1a" stroke-width="0.2" transform="translate(456.51,360.00) rotate(-45) scale(0.8333,1)">CLL_327</text>
<text x="0" y="0" font-size="5.40" font-family="Liberation Serif" font-weight="bold" text-anchor="end" fill="#1a1a1a" stroke="#1a1a1a" stroke-width="0.2" transform="translate(472.25,360.00) rotate(-45) scale(0.8333,1)">CLL_362</text>
<text x="0" y="0" font-size="5.40" font-family="Liberation Serif" font-weight="bold" text-anchor="end" fill="#1a1a1a" stroke="#1a1a1a" stroke-width="0.2" transform="translate(487.99,360.00) rotate(-45) scale(0.8333,1)">CLL_350</text>
<text x="0" y="0" font-size="5.40" font-family="Liberation Serif" font-weight="bold" text-anchor="end" fill="#1a1a1a" stroke="#1a1a1a" stroke-width="0.2" transform="translate(503.73,360.00) rotate(-45) scale(0.8333,1)">CLL_341</text>
<line x1="16.40" y1="409.50" x2="256.80" y2="409.50" stroke="#dadada" stroke-width="0.6" />
<line x1="15.20" y1="409.50" x2="16.40" y2="409.50" stroke="#999" stroke-width="0.4" />
<text transform="translate(13.2,410.65) scale(0.9091,1)" x="0" y="0" font-size="3.410" font-family="Liberation Serif" font-weight="bold" text-anchor="end" fill="#111" stroke="#111" stroke-width="0.2" >12</text>
<line x1="16.40" y1="414.89" x2="256.80" y2="414.89" stroke="#dadada" stroke-width="0.6" />
<line x1="15.20" y1="414.89" x2="16.40" y2="414.89" stroke="#999" stroke-width="0.4" />
<text transform="translate(13.2,416.03749999999997) scale(0.9091,1)" x="0" y="0" font-size="3.410" font-family="Liberation Serif" font-weight="bold" text-anchor="end" fill="#111" stroke="#111" stroke-width="0.2" >10.5</text>
<line x1="16.40" y1="420.27" x2="256.80" y2="420.27" stroke="#dadada" stroke-width="0.6" />
<line x1="15.20" y1="420.27" x2="16.40" y2="420.27" stroke="#999" stroke-width="0.4" />
<text transform="translate(13.2,421.42499999999995) scale(0.9091,1)" x="0" y="0" font-size="3.410" font-family="Liberation Serif" font-weight="bold" text-anchor="end" fill="#111" stroke="#111" stroke-width="0.2" >9</text>
<line x1="16.40" y1="425.66" x2="256.80" y2="425.66" stroke="#dadada" stroke-width="0.6" />
<line x1="15.20" y1="425.66" x2="16.40" y2="425.66" stroke="#999" stroke-width="0.4" />
<text transform="translate(13.2,426.8125) scale(0.9091,1)" x="0" y="0" font-size="3.410" font-family="Liberation Serif" font-weight="bold" text-anchor="end" fill="#111" stroke="#111" stroke-width="0.2" >7.5</text>
<line x1="16.40" y1="431.05" x2="256.80" y2="431.05" stroke="#dadada" stroke-width="0.6" />
<line x1="15.20" y1="431.05" x2="16.40" y2="431.05" stroke="#999" stroke-width="0.4" />
<text transform="translate(13.2,432.2) scale(0.9091,1)" x="0" y="0" font-size="3.410" font-family="Liberation Serif" font-weight="bold" text-anchor="end" fill="#111" stroke="#111" stroke-width="0.2" >6</text>
<line x1="16.40" y1="436.44" x2="256.80" y2="436.44" stroke="#dadada" stroke-width="0.6" />
<line x1="15.20" y1="436.44" x2="16.40" y2="436.44" stroke="#999" stroke-width="0.4" />
<text transform="translate(13.2,437.5875) scale(0.9091,1)" x="0" y="0" font-size="3.410" font-family="Liberation Serif" font-weight="bold" text-anchor="end" fill="#111" stroke="#111" stroke-width="0.2" >4.5</text>
<line x1="16.40" y1="441.83" x2="256.80" y2="441.83" stroke="#dadada" stroke-width="0.6" />
<line x1="15.20" y1="441.83" x2="16.40" y2="441.83" stroke="#999" stroke-width="0.4" />
<text transform="translate(13.2,442.975) scale(0.9091,1)" x="0" y="0" font-size="3.410" font-family="Liberation Serif" font-weight="bold" text-anchor="end" fill="#111" stroke="#111" stroke-width="0.2" >3</text>
<line x1="16.40" y1="447.21" x2="256.80" y2="447.21" stroke="#dadada" stroke-width="0.6" />
<line x1="15.20" y1="447.21" x2="16.40" y2="447.21" stroke="#999" stroke-width="0.4" />
<text transform="translate(13.2,448.3625) scale(0.9091,1)" x="0" y="0" font-size="3.410" font-family="Liberation Serif" font-weight="bold" text-anchor="end" fill="#111" stroke="#111" stroke-width="0.2" >1.5</text>
<line x1="15.20" y1="452.60" x2="16.40" y2="452.60" stroke="#999" stroke-width="0.4" />
<text transform="translate(13.2,453.75) scale(0.9091,1)" x="0" y="0" font-size="3.410" font-family="Liberation Serif" font-weight="bold" text-anchor="end" fill="#111" stroke="#111" stroke-width="0.2" >0</text>
<line x1="16.40" y1="409.50" x2="256.80" y2="409.50" stroke="#c6c6c6" stroke-width="0.7" />
<line x1="16.40" y1="409.50" x2="16.40" y2="452.60" stroke="#999" stroke-width="0.5" />
<line x1="256.80" y1="409.50" x2="256.80" y2="452.60" stroke="#cfcfcf" stroke-width="0.5" />
<rect x="18.52" y="433.12" width="2.15" height="19.48" fill="url(#gN)" stroke="#20204e" stroke-width="0.45"/>
<rect x="21.12" y="441.43" width="2.15" height="11.18" fill="url(#gl)" stroke="#8c7ca8" stroke-width="0.45"/>
<rect x="23.72" y="447.23" width="2.15" height="5.38" fill="url(#gl)" stroke="#8c7ca8" stroke-width="0.45"/>
<rect x="26.32" y="447.23" width="2.15" height="5.38" fill="url(#gG)" stroke="#5e4c0e" stroke-width="0.45"/>
<rect x="31.84" y="449.03" width="2.15" height="3.58" fill="url(#gN)" stroke="#20204e" stroke-width="0.45"/>
<rect x="34.45" y="448.73" width="2.15" height="3.88" fill="url(#gl)" stroke="#8c7ca8" stroke-width="0.45"/>
<rect x="37.05" y="448.23" width="2.15" height="4.38" fill="url(#gl)" stroke="#8c7ca8" stroke-width="0.45"/>
<rect x="39.65" y="449.33" width="2.15" height="3.27" fill="url(#gG)" stroke="#5e4c0e" stroke-width="0.45"/>
<rect x="45.16" y="433.12" width="2.15" height="19.48" fill="url(#gN)" stroke="#20204e" stroke-width="0.45"/>
<rect x="47.77" y="451.23" width="2.15" height="1.38" fill="url(#gl)" stroke="#8c7ca8" stroke-width="0.45"/>
<rect x="50.37" y="451.23" width="2.15" height="1.38" fill="url(#gG)" stroke="#5e4c0e" stroke-width="0.45"/>
<rect x="58.48" y="448.43" width="2.15" height="4.18" fill="url(#gN)" stroke="#20204e" stroke-width="0.45"/>
<rect x="61.09" y="448.43" width="2.15" height="4.18" fill="url(#gl)" stroke="#8c7ca8" stroke-width="0.45"/>
<rect x="63.69" y="449.03" width="2.15" height="3.58" fill="url(#gG)" stroke="#5e4c0e" stroke-width="0.45"/>
<rect x="71.81" y="448.73" width="2.15" height="3.88" fill="url(#gN)" stroke="#20204e" stroke-width="0.45"/>
<rect x="74.41" y="429.23" width="2.15" height="23.38" fill="url(#gG)" stroke="#5e4c0e" stroke-width="0.45"/>
<rect x="85.12" y="448.43" width="2.15" height="4.18" fill="url(#gN)" stroke="#20204e" stroke-width="0.45"/>
<rect x="87.72" y="449.33" width="2.15" height="3.27" fill="url(#gl)" stroke="#8c7ca8" stroke-width="0.45"/>
<rect x="90.33" y="449.53" width="2.15" height="3.08" fill="url(#gG)" stroke="#5e4c0e" stroke-width="0.45"/>
<rect x="98.44" y="446.83" width="2.15" height="5.78" fill="url(#gN)" stroke="#20204e" stroke-width="0.45"/>
<rect x="101.04" y="415.53" width="2.15" height="37.08" fill="url(#gG)" stroke="#5e4c0e" stroke-width="0.45"/>
<rect x="111.77" y="452.23" width="2.15" height="0.38" fill="url(#gN)" stroke="#20204e" stroke-width="0.45"/>
<rect x="114.37" y="451.23" width="2.15" height="1.38" fill="url(#gl)" stroke="#8c7ca8" stroke-width="0.45"/>
<rect x="116.97" y="414.73" width="2.15" height="37.88" fill="url(#gG)" stroke="#5e4c0e" stroke-width="0.45"/>
<rect x="125.09" y="449.33" width="2.15" height="3.27" fill="url(#gN)" stroke="#20204e" stroke-width="0.45"/>
<rect x="127.69" y="448.23" width="2.15" height="4.38" fill="url(#gG)" stroke="#5e4c0e" stroke-width="0.45"/>
<rect x="138.41" y="422.33" width="2.15" height="30.27" fill="url(#gN)" stroke="#20204e" stroke-width="0.45"/>
<rect x="141.00" y="424.93" width="2.15" height="27.68" fill="url(#gG)" stroke="#5e4c0e" stroke-width="0.45"/>
<rect x="151.72" y="433.83" width="2.15" height="18.77" fill="url(#gN)" stroke="#20204e" stroke-width="0.45"/>
<rect x="154.32" y="448.73" width="2.15" height="3.88" fill="url(#gG)" stroke="#5e4c0e" stroke-width="0.45"/>
<rect x="165.05" y="444.33" width="2.15" height="8.28" fill="url(#gN)" stroke="#20204e" stroke-width="0.45"/>
<rect x="167.65" y="451.73" width="2.15" height="0.88" fill="url(#gl)" stroke="#8c7ca8" stroke-width="0.45"/>
<rect x="178.37" y="452.23" width="2.15" height="0.38" fill="url(#gN)" stroke="#20204e" stroke-width="0.45"/>
<rect x="180.97" y="451.73" width="2.15" height="0.88" fill="url(#gG)" stroke="#5e4c0e" stroke-width="0.45"/>
<rect x="191.69" y="449.03" width="2.15" height="3.58" fill="url(#gN)" stroke="#20204e" stroke-width="0.45"/>
<rect x="194.28" y="442.23" width="2.15" height="10.38" fill="url(#gG)" stroke="#5e4c0e" stroke-width="0.45"/>
<rect x="205.01" y="448.43" width="2.15" height="4.18" fill="url(#gN)" stroke="#20204e" stroke-width="0.45"/>
<rect x="207.61" y="447.43" width="2.15" height="5.18" fill="url(#gl)" stroke="#8c7ca8" stroke-width="0.45"/>
<rect x="210.21" y="449.03" width="2.15" height="3.58" fill="url(#gG)" stroke="#5e4c0e" stroke-width="0.45"/>
<rect x="218.33" y="449.33" width="2.15" height="3.27" fill="url(#gN)" stroke="#20204e" stroke-width="0.45"/>
<rect x="220.93" y="440.03" width="2.15" height="12.58" fill="url(#gG)" stroke="#5e4c0e" stroke-width="0.45"/>
<rect x="231.65" y="451.93" width="2.15" height="0.68" fill="url(#gN)" stroke="#20204e" stroke-width="0.45"/>
<rect x="234.25" y="448.23" width="2.15" height="4.38" fill="url(#gl)" stroke="#8c7ca8" stroke-width="0.45"/>
<rect x="236.84" y="445.43" width="2.15" height="7.18" fill="url(#gG)" stroke="#5e4c0e" stroke-width="0.45"/>
<rect x="244.97" y="440.33" width="2.15" height="12.28" fill="url(#gN)" stroke="#20204e" stroke-width="0.45"/>
<rect x="247.56" y="440.73" width="2.15" height="11.88" fill="url(#gG)" stroke="#5e4c0e" stroke-width="0.45"/>
<line x1="16.40" y1="452.60" x2="256.80" y2="452.60" stroke="#8a8a8a" stroke-width="0.6" />
<line x1="16.40" y1="452.60" x2="16.40" y2="453.80" stroke="#999" stroke-width="0.4" />
<line x1="29.72" y1="452.60" x2="29.72" y2="453.80" stroke="#999" stroke-width="0.4" />
<line x1="43.04" y1="452.60" x2="43.04" y2="453.80" stroke="#999" stroke-width="0.4" />
<line x1="56.36" y1="452.60" x2="56.36" y2="453.80" stroke="#999" stroke-width="0.4" />
<line x1="69.68" y1="452.60" x2="69.68" y2="453.80" stroke="#999" stroke-width="0.4" />
<line x1="83.00" y1="452.60" x2="83.00" y2="453.80" stroke="#999" stroke-width="0.4" />
<line x1="96.32" y1="452.60" x2="96.32" y2="453.80" stroke="#999" stroke-width="0.4" />
<line x1="109.64" y1="452.60" x2="109.64" y2="453.80" stroke="#999" stroke-width="0.4" />
<line x1="122.96" y1="452.60" x2="122.96" y2="453.80" stroke="#999" stroke-width="0.4" />
<line x1="136.28" y1="452.60" x2="136.28" y2="453.80" stroke="#999" stroke-width="0.4" />
<line x1="149.60" y1="452.60" x2="149.60" y2="453.80" stroke="#999" stroke-width="0.4" />
<line x1="162.92" y1="452.60" x2="162.92" y2="453.80" stroke="#999" stroke-width="0.4" />
<line x1="176.24" y1="452.60" x2="176.24" y2="453.80" stroke="#999" stroke-width="0.4" />
<line x1="189.56" y1="452.60" x2="189.56" y2="453.80" stroke="#999" stroke-width="0.4" />
<line x1="202.88" y1="452.60" x2="202.88" y2="453.80" stroke="#999" stroke-width="0.4" />
<line x1="216.20" y1="452.60" x2="216.20" y2="453.80" stroke="#999" stroke-width="0.4" />
<line x1="229.52" y1="452.60" x2="229.52" y2="453.80" stroke="#999" stroke-width="0.4" />
<line x1="242.84" y1="452.60" x2="242.84" y2="453.80" stroke="#999" stroke-width="0.4" />
<line x1="256.16" y1="452.60" x2="256.16" y2="453.80" stroke="#999" stroke-width="0.4" />
<circle cx="73" cy="424.8" r="0.8" fill="#333"/>
<circle cx="100.1" cy="412" r="0.8" fill="#333"/>
<circle cx="114.9" cy="411.7" r="0.8" fill="#333"/>
<circle cx="180.5" cy="445.2" r="0.8" fill="#333"/>
<circle cx="193.6" cy="438" r="0.8" fill="#333"/>
<circle cx="220" cy="434.4" r="0.8" fill="#333"/>
<circle cx="235.2" cy="439.4" r="0.8" fill="#333"/>
<text x="0" y="0" font-size="5.40" font-family="Liberation Serif" font-weight="bold" text-anchor="end" fill="#1a1a1a" stroke="#1a1a1a" stroke-width="0.2" transform="translate(24.06,461.50) rotate(-45) scale(0.8333,1)">CLL_212</text>
<text x="0" y="0" font-size="5.40" font-family="Liberation Serif" font-weight="bold" text-anchor="end" fill="#1a1a1a" stroke="#1a1a1a" stroke-width="0.2" transform="translate(37.38,461.50) rotate(-45) scale(0.8333,1)">CLL_228</text>
<text x="0" y="0" font-size="5.40" font-family="Liberation Serif" font-weight="bold" text-anchor="end" fill="#1a1a1a" stroke="#1a1a1a" stroke-width="0.2" transform="translate(50.70,461.50) rotate(-45) scale(0.8333,1)">CLL_233</text>
<text x="0" y="0" font-size="5.40" font-family="Liberation Serif" font-weight="bold" text-anchor="end" fill="#1a1a1a" stroke="#1a1a1a" stroke-width="0.2" transform="translate(64.02,461.50) rotate(-45) scale(0.8333,1)">CLL_238</text>
<text x="0" y="0" font-size="5.40" font-family="Liberation Serif" font-weight="bold" text-anchor="end" fill="#1a1a1a" stroke="#1a1a1a" stroke-width="0.2" transform="translate(77.34,461.50) rotate(-45) scale(0.8333,1)">CLL_270</text>
<text x="0" y="0" font-size="5.40" font-family="Liberation Serif" font-weight="bold" text-anchor="end" fill="#1a1a1a" stroke="#1a1a1a" stroke-width="0.2" transform="translate(90.66,461.50) rotate(-45) scale(0.8333,1)">CLL_242</text>
<text x="0" y="0" font-size="5.40" font-family="Liberation Serif" font-weight="bold" text-anchor="end" fill="#1a1a1a" stroke="#1a1a1a" stroke-width="0.2" transform="translate(103.98,461.50) rotate(-45) scale(0.8333,1)">CLL_245</text>
<text x="0" y="0" font-size="5.40" font-family="Liberation Serif" font-weight="bold" text-anchor="end" fill="#1a1a1a" stroke="#1a1a1a" stroke-width="0.2" transform="translate(117.30,461.50) rotate(-45) scale(0.8333,1)">CLL_250</text>
<text x="0" y="0" font-size="5.40" font-family="Liberation Serif" font-weight="bold" text-anchor="end" fill="#1a1a1a" stroke="#1a1a1a" stroke-width="0.2" transform="translate(130.62,461.50) rotate(-45) scale(0.8333,1)">CLL_259</text>
<text x="0" y="0" font-size="5.40" font-family="Liberation Serif" font-weight="bold" text-anchor="end" fill="#1a1a1a" stroke="#1a1a1a" stroke-width="0.2" transform="translate(143.94,461.50) rotate(-45) scale(0.8333,1)">CLL_354</text>
<text x="0" y="0" font-size="5.40" font-family="Liberation Serif" font-weight="bold" text-anchor="end" fill="#1a1a1a" stroke="#1a1a1a" stroke-width="0.2" transform="translate(157.26,461.50) rotate(-45) scale(0.8333,1)">CLL_356</text>
<text x="0" y="0" font-size="5.40" font-family="Liberation Serif" font-weight="bold" text-anchor="end" fill="#1a1a1a" stroke="#1a1a1a" stroke-width="0.2" transform="translate(170.58,461.50) rotate(-45) scale(0.8333,1)">CLL_358</text>
<text x="0" y="0" font-size="5.40" font-family="Liberation Serif" font-weight="bold" text-anchor="end" fill="#1a1a1a" stroke="#1a1a1a" stroke-width="0.2" transform="translate(183.90,461.50) rotate(-45) scale(0.8333,1)">CLL_360</text>
<text x="0" y="0" font-size="5.40" font-family="Liberation Serif" font-weight="bold" text-anchor="end" fill="#1a1a1a" stroke="#1a1a1a" stroke-width="0.2" transform="translate(197.22,461.50) rotate(-45) scale(0.8333,1)">CLL_344</text>
<text x="0" y="0" font-size="5.40" font-family="Liberation Serif" font-weight="bold" text-anchor="end" fill="#1a1a1a" stroke="#1a1a1a" stroke-width="0.2" transform="translate(210.54,461.50) rotate(-45) scale(0.8333,1)">CLL_351</text>
<text x="0" y="0" font-size="5.40" font-family="Liberation Serif" font-weight="bold" text-anchor="end" fill="#1a1a1a" stroke="#1a1a1a" stroke-width="0.2" transform="translate(223.86,461.50) rotate(-45) scale(0.8333,1)">CLL_362</text>
<text x="0" y="0" font-size="5.40" font-family="Liberation Serif" font-weight="bold" text-anchor="end" fill="#1a1a1a" stroke="#1a1a1a" stroke-width="0.2" transform="translate(237.18,461.50) rotate(-45) scale(0.8333,1)">CLL_365</text>
<text x="0" y="0" font-size="5.40" font-family="Liberation Serif" font-weight="bold" text-anchor="end" fill="#1a1a1a" stroke="#1a1a1a" stroke-width="0.2" transform="translate(250.50,461.50) rotate(-45) scale(0.8333,1)">CLL_366</text>
<line x1="277.30" y1="409.80" x2="515.50" y2="409.80" stroke="#dadada" stroke-width="0.6" />
<line x1="276.10" y1="409.80" x2="277.30" y2="409.80" stroke="#999" stroke-width="0.4" />
<text transform="translate(273.8,410.95) scale(0.9091,1)" x="0" y="0" font-size="3.410" font-family="Liberation Serif" font-weight="bold" text-anchor="end" fill="#111" stroke="#111" stroke-width="0.2" >3.2</text>
<line x1="277.30" y1="415.38" x2="515.50" y2="415.38" stroke="#dadada" stroke-width="0.6" />
<line x1="276.10" y1="415.38" x2="277.30" y2="415.38" stroke="#999" stroke-width="0.4" />
<text transform="translate(273.8,416.525) scale(0.9091,1)" x="0" y="0" font-size="3.410" font-family="Liberation Serif" font-weight="bold" text-anchor="end" fill="#111" stroke="#111" stroke-width="0.2" >2.8</text>
<line x1="277.30" y1="420.95" x2="515.50" y2="420.95" stroke="#dadada" stroke-width="0.6" />
<line x1="276.10" y1="420.95" x2="277.30" y2="420.95" stroke="#999" stroke-width="0.4" />
<text transform="translate(273.8,422.09999999999997) scale(0.9091,1)" x="0" y="0" font-size="3.410" font-family="Liberation Serif" font-weight="bold" text-anchor="end" fill="#111" stroke="#111" stroke-width="0.2" >2.4</text>
<line x1="277.30" y1="426.52" x2="515.50" y2="426.52" stroke="#dadada" stroke-width="0.6" />
<line x1="276.10" y1="426.52" x2="277.30" y2="426.52" stroke="#999" stroke-width="0.4" />
<text transform="translate(273.8,427.67499999999995) scale(0.9091,1)" x="0" y="0" font-size="3.410" font-family="Liberation Serif" font-weight="bold" text-anchor="end" fill="#111" stroke="#111" stroke-width="0.2" >2</text>
<line x1="277.30" y1="432.10" x2="515.50" y2="432.10" stroke="#dadada" stroke-width="0.6" />
<line x1="276.10" y1="432.10" x2="277.30" y2="432.10" stroke="#999" stroke-width="0.4" />
<text transform="translate(273.8,433.25) scale(0.9091,1)" x="0" y="0" font-size="3.410" font-family="Liberation Serif" font-weight="bold" text-anchor="end" fill="#111" stroke="#111" stroke-width="0.2" >1.6</text>
<line x1="277.30" y1="437.68" x2="515.50" y2="437.68" stroke="#dadada" stroke-width="0.6" />
<line x1="276.10" y1="437.68" x2="277.30" y2="437.68" stroke="#999" stroke-width="0.4" />
<text transform="translate(273.8,438.825) scale(0.9091,1)" x="0" y="0" font-size="3.410" font-family="Liberation Serif" font-weight="bold" text-anchor="end" fill="#111" stroke="#111" stroke-width="0.2" >1.2</text>
<line x1="277.30" y1="443.25" x2="515.50" y2="443.25" stroke="#dadada" stroke-width="0.6" />
<line x1="276.10" y1="443.25" x2="277.30" y2="443.25" stroke="#999" stroke-width="0.4" />
<text transform="translate(273.8,444.4) scale(0.9091,1)" x="0" y="0" font-size="3.410" font-family="Liberation Serif" font-weight="bold" text-anchor="end" fill="#111" stroke="#111" stroke-width="0.2" >0.8</text>
<line x1="277.30" y1="448.82" x2="515.50" y2="448.82" stroke="#dadada" stroke-width="0.6" />
<line x1="276.10" y1="448.82" x2="277.30" y2="448.82" stroke="#999" stroke-width="0.4" />
<text transform="translate(273.8,449.97499999999997) scale(0.9091,1)" x="0" y="0" font-size="3.410" font-family="Liberation Serif" font-weight="bold" text-anchor="end" fill="#111" stroke="#111" stroke-width="0.2" >0.4</text>
<line x1="276.10" y1="454.40" x2="277.30" y2="454.40" stroke="#999" stroke-width="0.4" />
<text transform="translate(273.8,455.54999999999995) scale(0.9091,1)" x="0" y="0" font-size="3.410" font-family="Liberation Serif" font-weight="bold" text-anchor="end" fill="#111" stroke="#111" stroke-width="0.2" >0</text>
<line x1="277.30" y1="409.80" x2="515.50" y2="409.80" stroke="#c6c6c6" stroke-width="0.7" />
<line x1="277.30" y1="409.80" x2="277.30" y2="454.40" stroke="#999" stroke-width="0.5" />
<line x1="515.50" y1="409.80" x2="515.50" y2="454.40" stroke="#cfcfcf" stroke-width="0.5" />
<rect x="279.33" y="432.33" width="2.55" height="22.07" fill="url(#gn)" stroke="#20204e" stroke-width="0.45"/>
<rect x="282.33" y="418.53" width="2.55" height="35.87" fill="url(#gg)" stroke="#5e4c0e" stroke-width="0.45"/>
<rect x="295.25" y="414.23" width="2.55" height="40.17" fill="url(#gn)" stroke="#20204e" stroke-width="0.45"/>
<rect x="298.25" y="426.53" width="2.55" height="27.87" fill="url(#gl)" stroke="#8c7ca8" stroke-width="0.45"/>
<rect x="301.25" y="427.73" width="2.55" height="26.67" fill="url(#gg)" stroke="#5e4c0e" stroke-width="0.45"/>
<rect x="311.17" y="436.62" width="2.55" height="17.77" fill="url(#gn)" stroke="#20204e" stroke-width="0.45"/>
<rect x="314.17" y="433.53" width="2.55" height="20.87" fill="url(#gl)" stroke="#8c7ca8" stroke-width="0.45"/>
<rect x="317.17" y="424.23" width="2.55" height="30.17" fill="url(#gg)" stroke="#5e4c0e" stroke-width="0.45"/>
<rect x="327.09" y="429.73" width="2.55" height="24.67" fill="url(#gn)" stroke="#20204e" stroke-width="0.45"/>
<rect x="330.09" y="440.43" width="2.55" height="13.97" fill="url(#gg)" stroke="#5e4c0e" stroke-width="0.45"/>
<rect x="343.01" y="446.53" width="2.55" height="7.87" fill="url(#gn)" stroke="#20204e" stroke-width="0.45"/>
<rect x="346.01" y="446.53" width="2.55" height="7.87" fill="url(#gl)" stroke="#8c7ca8" stroke-width="0.45"/>
<rect x="349.01" y="446.23" width="2.55" height="8.17" fill="url(#gg)" stroke="#5e4c0e" stroke-width="0.45"/>
<rect x="358.93" y="435.43" width="2.55" height="18.97" fill="url(#gn)" stroke="#20204e" stroke-width="0.45"/>
<rect x="361.93" y="429.23" width="2.55" height="25.17" fill="url(#gl)" stroke="#8c7ca8" stroke-width="0.45"/>
<rect x="374.85" y="441.23" width="2.55" height="13.17" fill="url(#gn)" stroke="#20204e" stroke-width="0.45"/>
<rect x="377.85" y="451.43" width="2.55" height="2.97" fill="url(#gl)" stroke="#8c7ca8" stroke-width="0.45"/>
<rect x="380.85" y="447.73" width="2.55" height="6.67" fill="url(#gl)" stroke="#8c7ca8" stroke-width="0.45"/>
<rect x="383.85" y="450.83" width="2.55" height="3.57" fill="url(#gg)" stroke="#5e4c0e" stroke-width="0.45"/>
<rect x="390.77" y="447.33" width="2.55" height="7.07" fill="url(#gn)" stroke="#20204e" stroke-width="0.45"/>
<rect x="393.77" y="446.53" width="2.55" height="7.87" fill="url(#gl)" stroke="#8c7ca8" stroke-width="0.45"/>
<rect x="396.77" y="445.83" width="2.55" height="8.57" fill="url(#gl)" stroke="#8c7ca8" stroke-width="0.45"/>
<rect x="399.77" y="451.12" width="2.55" height="3.27" fill="url(#gg)" stroke="#5e4c0e" stroke-width="0.45"/>
<rect x="406.69" y="442.73" width="2.55" height="11.67" fill="url(#gn)" stroke="#20204e" stroke-width="0.45"/>
<rect x="422.61" y="448.53" width="2.55" height="5.87" fill="url(#gn)" stroke="#20204e" stroke-width="0.45"/>
<rect x="425.61" y="429.23" width="2.55" height="25.17" fill="url(#gl)" stroke="#8c7ca8" stroke-width="0.45"/>
<rect x="428.61" y="450.23" width="2.55" height="4.17" fill="url(#gl)" stroke="#8c7ca8" stroke-width="0.45"/>
<rect x="431.61" y="450.23" width="2.55" height="4.17" fill="url(#gg)" stroke="#5e4c0e" stroke-width="0.45"/>
<rect x="438.53" y="445.03" width="2.55" height="9.37" fill="url(#gn)" stroke="#20204e" stroke-width="0.45"/>
<rect x="441.53" y="446.73" width="2.55" height="7.67" fill="url(#gl)" stroke="#8c7ca8" stroke-width="0.45"/>
<rect x="444.53" y="441.53" width="2.55" height="12.87" fill="url(#gl)" stroke="#8c7ca8" stroke-width="0.45"/>
<rect x="447.53" y="447.93" width="2.55" height="6.47" fill="url(#gg)" stroke="#5e4c0e" stroke-width="0.45"/>
<rect x="454.45" y="439.83" width="2.55" height="14.57" fill="url(#gn)" stroke="#20204e" stroke-width="0.45"/>
<rect x="457.45" y="441.23" width="2.55" height="13.17" fill="url(#gl)" stroke="#8c7ca8" stroke-width="0.45"/>
<rect x="470.37" y="438.43" width="2.55" height="15.97" fill="url(#gn)" stroke="#20204e" stroke-width="0.45"/>
<rect x="473.37" y="435.43" width="2.55" height="18.97" fill="url(#gl)" stroke="#8c7ca8" stroke-width="0.45"/>
<rect x="476.37" y="446.43" width="2.55" height="7.97" fill="url(#gg)" stroke="#5e4c0e" stroke-width="0.45"/>
<rect x="486.29" y="419.23" width="2.55" height="35.17" fill="url(#gn)" stroke="#20204e" stroke-width="0.45"/>
<rect x="489.29" y="437.83" width="2.55" height="16.57" fill="url(#gl)" stroke="#8c7ca8" stroke-width="0.45"/>
<rect x="492.29" y="447.73" width="2.55" height="6.67" fill="url(#gg)" stroke="#5e4c0e" stroke-width="0.45"/>
<rect x="502.21" y="420.03" width="2.55" height="34.37" fill="url(#gn)" stroke="#20204e" stroke-width="0.45"/>
<rect x="505.21" y="435.33" width="2.55" height="19.07" fill="url(#gl)" stroke="#8c7ca8" stroke-width="0.45"/>
<rect x="508.21" y="431.62" width="2.55" height="22.77" fill="url(#gg)" stroke="#5e4c0e" stroke-width="0.45"/>
<line x1="277.30" y1="454.40" x2="515.50" y2="454.40" stroke="#8a8a8a" stroke-width="0.6" />
<line x1="277.30" y1="454.40" x2="277.30" y2="455.60" stroke="#999" stroke-width="0.4" />
<line x1="293.22" y1="454.40" x2="293.22" y2="455.60" stroke="#999" stroke-width="0.4" />
<line x1="309.14" y1="454.40" x2="309.14" y2="455.60" stroke="#999" stroke-width="0.4" />
<line x1="325.06" y1="454.40" x2="325.06" y2="455.60" stroke="#999" stroke-width="0.4" />
<line x1="340.98" y1="454.40" x2="340.98" y2="455.60" stroke="#999" stroke-width="0.4" />
<line x1="356.90" y1="454.40" x2="356.90" y2="455.60" stroke="#999" stroke-width="0.4" />
<line x1="372.82" y1="454.40" x2="372.82" y2="455.60" stroke="#999" stroke-width="0.4" />
<line x1="388.74" y1="454.40" x2="388.74" y2="455.60" stroke="#999" stroke-width="0.4" />
<line x1="404.66" y1="454.40" x2="404.66" y2="455.60" stroke="#999" stroke-width="0.4" />
<line x1="420.58" y1="454.40" x2="420.58" y2="455.60" stroke="#999" stroke-width="0.4" />
<line x1="436.50" y1="454.40" x2="436.50" y2="455.60" stroke="#999" stroke-width="0.4" />
<line x1="452.42" y1="454.40" x2="452.42" y2="455.60" stroke="#999" stroke-width="0.4" />
<line x1="468.34" y1="454.40" x2="468.34" y2="455.60" stroke="#999" stroke-width="0.4" />
<line x1="484.26" y1="454.40" x2="484.26" y2="455.60" stroke="#999" stroke-width="0.4" />
<line x1="500.18" y1="454.40" x2="500.18" y2="455.60" stroke="#999" stroke-width="0.4" />
<line x1="516.10" y1="454.40" x2="516.10" y2="455.60" stroke="#999" stroke-width="0.4" />
<text x="0" y="0" font-size="5.40" font-family="Liberation Serif" font-weight="bold" text-anchor="end" fill="#1a1a1a" stroke="#1a1a1a" stroke-width="0.2" transform="translate(285.06,461.40) rotate(-45) scale(0.8333,1)">CLL_300</text>
<text x="0" y="0" font-size="5.40" font-family="Liberation Serif" font-weight="bold" text-anchor="end" fill="#1a1a1a" stroke="#1a1a1a" stroke-width="0.2" transform="translate(300.98,461.40) rotate(-45) scale(0.8333,1)">CLL_303</text>
<text x="0" y="0" font-size="5.40" font-family="Liberation Serif" font-weight="bold" text-anchor="end" fill="#1a1a1a" stroke="#1a1a1a" stroke-width="0.2" transform="translate(316.90,461.40) rotate(-45) scale(0.8333,1)">CLL_307</text>
<text x="0" y="0" font-size="5.40" font-family="Liberation Serif" font-weight="bold" text-anchor="end" fill="#1a1a1a" stroke="#1a1a1a" stroke-width="0.2" transform="translate(332.82,461.40) rotate(-45) scale(0.8333,1)">CLL_314</text>
<text x="0" y="0" font-size="5.40" font-family="Liberation Serif" font-weight="bold" text-anchor="end" fill="#1a1a1a" stroke="#1a1a1a" stroke-width="0.2" transform="translate(348.74,461.40) rotate(-45) scale(0.8333,1)">CLL_317</text>
<text x="0" y="0" font-size="5.40" font-family="Liberation Serif" font-weight="bold" text-anchor="end" fill="#1a1a1a" stroke="#1a1a1a" stroke-width="0.2" transform="translate(364.66,461.40) rotate(-45) scale(0.8333,1)">CLL_343</text>
<text x="0" y="0" font-size="5.40" font-family="Liberation Serif" font-weight="bold" text-anchor="end" fill="#1a1a1a" stroke="#1a1a1a" stroke-width="0.2" transform="translate(380.58,461.40) rotate(-45) scale(0.8333,1)">CLL_316</text>
<text x="0" y="0" font-size="5.40" font-family="Liberation Serif" font-weight="bold" text-anchor="end" fill="#1a1a1a" stroke="#1a1a1a" stroke-width="0.2" transform="translate(396.50,461.40) rotate(-45) scale(0.8333,1)">CLL_304</text>
<text x="0" y="0" font-size="5.40" font-family="Liberation Serif" font-weight="bold" text-anchor="end" fill="#1a1a1a" stroke="#1a1a1a" stroke-width="0.2" transform="translate(412.42,461.40) rotate(-45) scale(0.8333,1)">CLL_347</text>
<text x="0" y="0" font-size="5.40" font-family="Liberation Serif" font-weight="bold" text-anchor="end" fill="#1a1a1a" stroke="#1a1a1a" stroke-width="0.2" transform="translate(428.34,461.40) rotate(-45) scale(0.8333,1)">CLL_324</text>
<text x="0" y="0" font-size="5.40" font-family="Liberation Serif" font-weight="bold" text-anchor="end" fill="#1a1a1a" stroke="#1a1a1a" stroke-width="0.2" transform="translate(444.26,461.40) rotate(-45) scale(0.8333,1)">CLL_307</text>
<text x="0" y="0" font-size="5.40" font-family="Liberation Serif" font-weight="bold" text-anchor="end" fill="#1a1a1a" stroke="#1a1a1a" stroke-width="0.2" transform="translate(460.18,461.40) rotate(-45) scale(0.8333,1)">CLL_327</text>
<text x="0" y="0" font-size="5.40" font-family="Liberation Serif" font-weight="bold" text-anchor="end" fill="#1a1a1a" stroke="#1a1a1a" stroke-width="0.2" transform="translate(476.10,461.40) rotate(-45) scale(0.8333,1)">CLL_362</text>
<text x="0" y="0" font-size="5.40" font-family="Liberation Serif" font-weight="bold" text-anchor="end" fill="#1a1a1a" stroke="#1a1a1a" stroke-width="0.2" transform="translate(492.02,461.40) rotate(-45) scale(0.8333,1)">CLL_350</text>
<text x="0" y="0" font-size="5.40" font-family="Liberation Serif" font-weight="bold" text-anchor="end" fill="#1a1a1a" stroke="#1a1a1a" stroke-width="0.2" transform="translate(507.94,461.40) rotate(-45) scale(0.8333,1)">CLL_341</text>
<text transform="translate(2.2,287.6) scale(0.8929,1)" x="0" y="0" font-size="10.528" font-family="Liberation Serif" font-weight="normal" text-anchor="start" fill="#000" stroke="#000" stroke-width="0.18" >R</text>
<text transform="translate(20.8,286.5) scale(0.8929,1)" x="0" y="0" font-size="5.824" font-family="Liberation Serif" font-weight="normal" text-anchor="middle" fill="#111" stroke="#111" stroke-width="0.22" >-0.77</text>
<text transform="translate(34.6,286.5) scale(0.8929,1)" x="0" y="0" font-size="5.824" font-family="Liberation Serif" font-weight="normal" text-anchor="middle" fill="#111" stroke="#111" stroke-width="0.22" >-0.72</text>
<text transform="translate(48.5,286.5) scale(0.8929,1)" x="0" y="0" font-size="5.824" font-family="Liberation Serif" font-weight="normal" text-anchor="middle" fill="#111" stroke="#111" stroke-width="0.22" >-0.75</text>
<text transform="translate(62.1,286.5) scale(0.8929,1)" x="0" y="0" font-size="5.824" font-family="Liberation Serif" font-weight="normal" text-anchor="middle" fill="#111" stroke="#111" stroke-width="0.22" >0.61</text>
<text transform="translate(73.6,286.5) scale(0.8929,1)" x="0" y="0" font-size="5.824" font-family="Liberation Serif" font-weight="normal" text-anchor="middle" fill="#111" stroke="#111" stroke-width="0.22" >-1</text>
<text transform="translate(88.1,286.5) scale(0.8929,1)" x="0" y="0" font-size="5.824" font-family="Liberation Serif" font-weight="normal" text-anchor="middle" fill="#111" stroke="#111" stroke-width="0.22" >0.36</text>
<text transform="translate(100.9,286.5) scale(0.8929,1)" x="0" y="0" font-size="5.824" font-family="Liberation Serif" font-weight="normal" text-anchor="middle" fill="#111" stroke="#111" stroke-width="0.22" >-1</text>
<text transform="translate(113.75,286.5) scale(0.8929,1)" x="0" y="0" font-size="5.824" font-family="Liberation Serif" font-weight="normal" text-anchor="middle" fill="#111" stroke="#111" stroke-width="0.22" >-1</text>
<text transform="translate(128,286.5) scale(0.8929,1)" x="0" y="0" font-size="5.824" font-family="Liberation Serif" font-weight="normal" text-anchor="middle" fill="#111" stroke="#111" stroke-width="0.22" >nc</text>
<text transform="translate(139.4,286.5) scale(0.8929,1)" x="0" y="0" font-size="5.824" font-family="Liberation Serif" font-weight="normal" text-anchor="middle" fill="#111" stroke="#111" stroke-width="0.22" >-1</text>
<text transform="translate(153.7,286.5) scale(0.8929,1)" x="0" y="0" font-size="5.824" font-family="Liberation Serif" font-weight="normal" text-anchor="middle" fill="#111" stroke="#111" stroke-width="0.22" >-1</text>
<text transform="translate(166.3,286.5) scale(0.8929,1)" x="0" y="0" font-size="5.824" font-family="Liberation Serif" font-weight="normal" text-anchor="middle" fill="#111" stroke="#111" stroke-width="0.22" >-1</text>
<text transform="translate(179.2,286.5) scale(0.8929,1)" x="0" y="0" font-size="5.824" font-family="Liberation Serif" font-weight="normal" text-anchor="middle" fill="#111" stroke="#111" stroke-width="0.22" >-1</text>
<text transform="translate(192.2,286.5) scale(0.8929,1)" x="0" y="0" font-size="5.824" font-family="Liberation Serif" font-weight="normal" text-anchor="middle" fill="#111" stroke="#111" stroke-width="0.22" >-1</text>
<text transform="translate(206.0,286.5) scale(0.8929,1)" x="0" y="0" font-size="5.824" font-family="Liberation Serif" font-weight="normal" text-anchor="middle" fill="#111" stroke="#111" stroke-width="0.22" >-0.19</text>
<text transform="translate(219.5,286.5) scale(0.8929,1)" x="0" y="0" font-size="5.824" font-family="Liberation Serif" font-weight="normal" text-anchor="middle" fill="#111" stroke="#111" stroke-width="0.22" >1</text>
<text transform="translate(232.3,286.5) scale(0.8929,1)" x="0" y="0" font-size="5.824" font-family="Liberation Serif" font-weight="normal" text-anchor="middle" fill="#111" stroke="#111" stroke-width="0.22" >-0.34</text>
<text transform="translate(245.4,286.5) scale(0.8929,1)" x="0" y="0" font-size="5.824" font-family="Liberation Serif" font-weight="normal" text-anchor="middle" fill="#111" stroke="#111" stroke-width="0.22" >1</text>
<text transform="translate(2.2,383.0) scale(0.8929,1)" x="0" y="0" font-size="10.528" font-family="Liberation Serif" font-weight="normal" text-anchor="start" fill="#000" stroke="#000" stroke-width="0.18" >R</text>
<text transform="translate(22.5,380.9) scale(0.8929,1)" x="0" y="0" font-size="5.824" font-family="Liberation Serif" font-weight="normal" text-anchor="middle" fill="#111" stroke="#111" stroke-width="0.22" >0.99</text>
<text transform="translate(36.25,380.9) scale(0.8929,1)" x="0" y="0" font-size="5.824" font-family="Liberation Serif" font-weight="normal" text-anchor="middle" fill="#111" stroke="#111" stroke-width="0.22" >0.74</text>
<text transform="translate(49.5,380.9) scale(0.8929,1)" x="0" y="0" font-size="5.824" font-family="Liberation Serif" font-weight="normal" text-anchor="middle" fill="#111" stroke="#111" stroke-width="0.22" >0.34</text>
<text transform="translate(62,380.9) scale(0.8929,1)" x="0" y="0" font-size="5.824" font-family="Liberation Serif" font-weight="normal" text-anchor="middle" fill="#111" stroke="#111" stroke-width="0.22" >-0.25</text>
<text transform="translate(74.5,380.9) scale(0.8929,1)" x="0" y="0" font-size="5.824" font-family="Liberation Serif" font-weight="normal" text-anchor="middle" fill="#111" stroke="#111" stroke-width="0.22" >-1</text>
<text transform="translate(88.75,380.9) scale(0.8929,1)" x="0" y="0" font-size="5.824" font-family="Liberation Serif" font-weight="normal" text-anchor="middle" fill="#111" stroke="#111" stroke-width="0.22" >0.27</text>
<text transform="translate(102,380.9) scale(0.8929,1)" x="0" y="0" font-size="5.824" font-family="Liberation Serif" font-weight="normal" text-anchor="middle" fill="#111" stroke="#111" stroke-width="0.22" >-1</text>
<text transform="translate(115.5,380.9) scale(0.8929,1)" x="0" y="0" font-size="5.824" font-family="Liberation Serif" font-weight="normal" text-anchor="middle" fill="#111" stroke="#111" stroke-width="0.22" >-1</text>
<text transform="translate(128.5,380.9) scale(0.8929,1)" x="0" y="0" font-size="5.824" font-family="Liberation Serif" font-weight="normal" text-anchor="middle" fill="#111" stroke="#111" stroke-width="0.22" >-1</text>
<text transform="translate(142.9,380.9) scale(0.8929,1)" x="0" y="0" font-size="5.824" font-family="Liberation Serif" font-weight="normal" text-anchor="middle" fill="#111" stroke="#111" stroke-width="0.22" >-1</text>
<text transform="translate(154.5,380.9) scale(0.8929,1)" x="0" y="0" font-size="5.824" font-family="Liberation Serif" font-weight="normal" text-anchor="middle" fill="#111" stroke="#111" stroke-width="0.22" >1</text>
<text transform="translate(168.5,380.9) scale(0.8929,1)" x="0" y="0" font-size="5.824" font-family="Liberation Serif" font-weight="normal" text-anchor="middle" fill="#111" stroke="#111" stroke-width="0.22" >-1</text>
<text transform="translate(181.4,380.9) scale(0.8929,1)" x="0" y="0" font-size="5.824" font-family="Liberation Serif" font-weight="normal" text-anchor="middle" fill="#111" stroke="#111" stroke-width="0.22" >-1</text>
<text transform="translate(192.7,380.9) scale(0.8929,1)" x="0" y="0" font-size="5.824" font-family="Liberation Serif" font-weight="normal" text-anchor="middle" fill="#111" stroke="#111" stroke-width="0.22" >1</text>
<text transform="translate(207.5,380.9) scale(0.8929,1)" x="0" y="0" font-size="5.824" font-family="Liberation Serif" font-weight="normal" text-anchor="middle" fill="#111" stroke="#111" stroke-width="0.22" >-0.01</text>
<text transform="translate(222.3,380.9) scale(0.8929,1)" x="0" y="0" font-size="5.824" font-family="Liberation Serif" font-weight="normal" text-anchor="middle" fill="#111" stroke="#111" stroke-width="0.22" >-1</text>
<text transform="translate(236.3,380.9) scale(0.8929,1)" x="0" y="0" font-size="5.824" font-family="Liberation Serif" font-weight="normal" text-anchor="middle" fill="#111" stroke="#111" stroke-width="0.22" >0.4</text>
<text transform="translate(248.7,380.9) scale(0.8929,1)" x="0" y="0" font-size="5.824" font-family="Liberation Serif" font-weight="normal" text-anchor="middle" fill="#111" stroke="#111" stroke-width="0.22" >1</text>
<text transform="translate(2.2,485.3) scale(0.8929,1)" x="0" y="0" font-size="10.528" font-family="Liberation Serif" font-weight="normal" text-anchor="start" fill="#000" stroke="#000" stroke-width="0.18" >R</text>
<text transform="translate(21.25,485.0) scale(0.8929,1)" x="0" y="0" font-size="5.824" font-family="Liberation Serif" font-weight="normal" text-anchor="middle" fill="#111" stroke="#111" stroke-width="0.22" >0.99</text>
<text transform="translate(35,485.0) scale(0.8929,1)" x="0" y="0" font-size="5.824" font-family="Liberation Serif" font-weight="normal" text-anchor="middle" fill="#111" stroke="#111" stroke-width="0.22" >-0.88</text>
<text transform="translate(48,485.0) scale(0.8929,1)" x="0" y="0" font-size="5.824" font-family="Liberation Serif" font-weight="normal" text-anchor="middle" fill="#111" stroke="#111" stroke-width="0.22" >-0.62</text>
<text transform="translate(61.25,485.0) scale(0.8929,1)" x="0" y="0" font-size="5.824" font-family="Liberation Serif" font-weight="normal" text-anchor="middle" fill="#111" stroke="#111" stroke-width="0.22" >0.63</text>
<text transform="translate(74.5,485.0) scale(0.8929,1)" x="0" y="0" font-size="5.824" font-family="Liberation Serif" font-weight="normal" text-anchor="middle" fill="#111" stroke="#111" stroke-width="0.22" >-1</text>
<text transform="translate(88.75,485.0) scale(0.8929,1)" x="0" y="0" font-size="5.824" font-family="Liberation Serif" font-weight="normal" text-anchor="middle" fill="#111" stroke="#111" stroke-width="0.22" >0.54</text>
<text transform="translate(100.5,485.0) scale(0.8929,1)" x="0" y="0" font-size="5.824" font-family="Liberation Serif" font-weight="normal" text-anchor="middle" fill="#111" stroke="#111" stroke-width="0.22" >-1</text>
<text transform="translate(115.5,485.0) scale(0.8929,1)" x="0" y="0" font-size="5.824" font-family="Liberation Serif" font-weight="normal" text-anchor="middle" fill="#111" stroke="#111" stroke-width="0.22" >-1</text>
<text transform="translate(129,485.0) scale(0.8929,1)" x="0" y="0" font-size="5.824" font-family="Liberation Serif" font-weight="normal" text-anchor="middle" fill="#111" stroke="#111" stroke-width="0.22" >-1</text>
<text transform="translate(139.4,485.0) scale(0.8929,1)" x="0" y="0" font-size="5.824" font-family="Liberation Serif" font-weight="normal" text-anchor="middle" fill="#111" stroke="#111" stroke-width="0.22" >-1</text>
<text transform="translate(153.7,485.0) scale(0.8929,1)" x="0" y="0" font-size="5.824" font-family="Liberation Serif" font-weight="normal" text-anchor="middle" fill="#111" stroke="#111" stroke-width="0.22" >1</text>
<text transform="translate(167.1,485.0) scale(0.8929,1)" x="0" y="0" font-size="5.824" font-family="Liberation Serif" font-weight="normal" text-anchor="middle" fill="#111" stroke="#111" stroke-width="0.22" >1</text>
<text transform="translate(181.4,485.0) scale(0.8929,1)" x="0" y="0" font-size="5.824" font-family="Liberation Serif" font-weight="normal" text-anchor="middle" fill="#111" stroke="#111" stroke-width="0.22" >-1</text>
<text transform="translate(193.2,485.0) scale(0.8929,1)" x="0" y="0" font-size="5.824" font-family="Liberation Serif" font-weight="normal" text-anchor="middle" fill="#111" stroke="#111" stroke-width="0.22" >1</text>
<text transform="translate(207.5,485.0) scale(0.8929,1)" x="0" y="0" font-size="5.824" font-family="Liberation Serif" font-weight="normal" text-anchor="middle" fill="#111" stroke="#111" stroke-width="0.22" >0.22</text>
<text transform="translate(221,485.0) scale(0.8929,1)" x="0" y="0" font-size="5.824" font-family="Liberation Serif" font-weight="normal" text-anchor="middle" fill="#111" stroke="#111" stroke-width="0.22" >-1</text>
<text transform="translate(235.2,485.0) scale(0.8929,1)" x="0" y="0" font-size="5.824" font-family="Liberation Serif" font-weight="normal" text-anchor="middle" fill="#111" stroke="#111" stroke-width="0.22" >-0.70</text>
<text transform="translate(247.1,485.0) scale(0.8929,1)" x="0" y="0" font-size="5.824" font-family="Liberation Serif" font-weight="normal" text-anchor="middle" fill="#111" stroke="#111" stroke-width="0.22" >1</text>
</svg>
</body></html>
